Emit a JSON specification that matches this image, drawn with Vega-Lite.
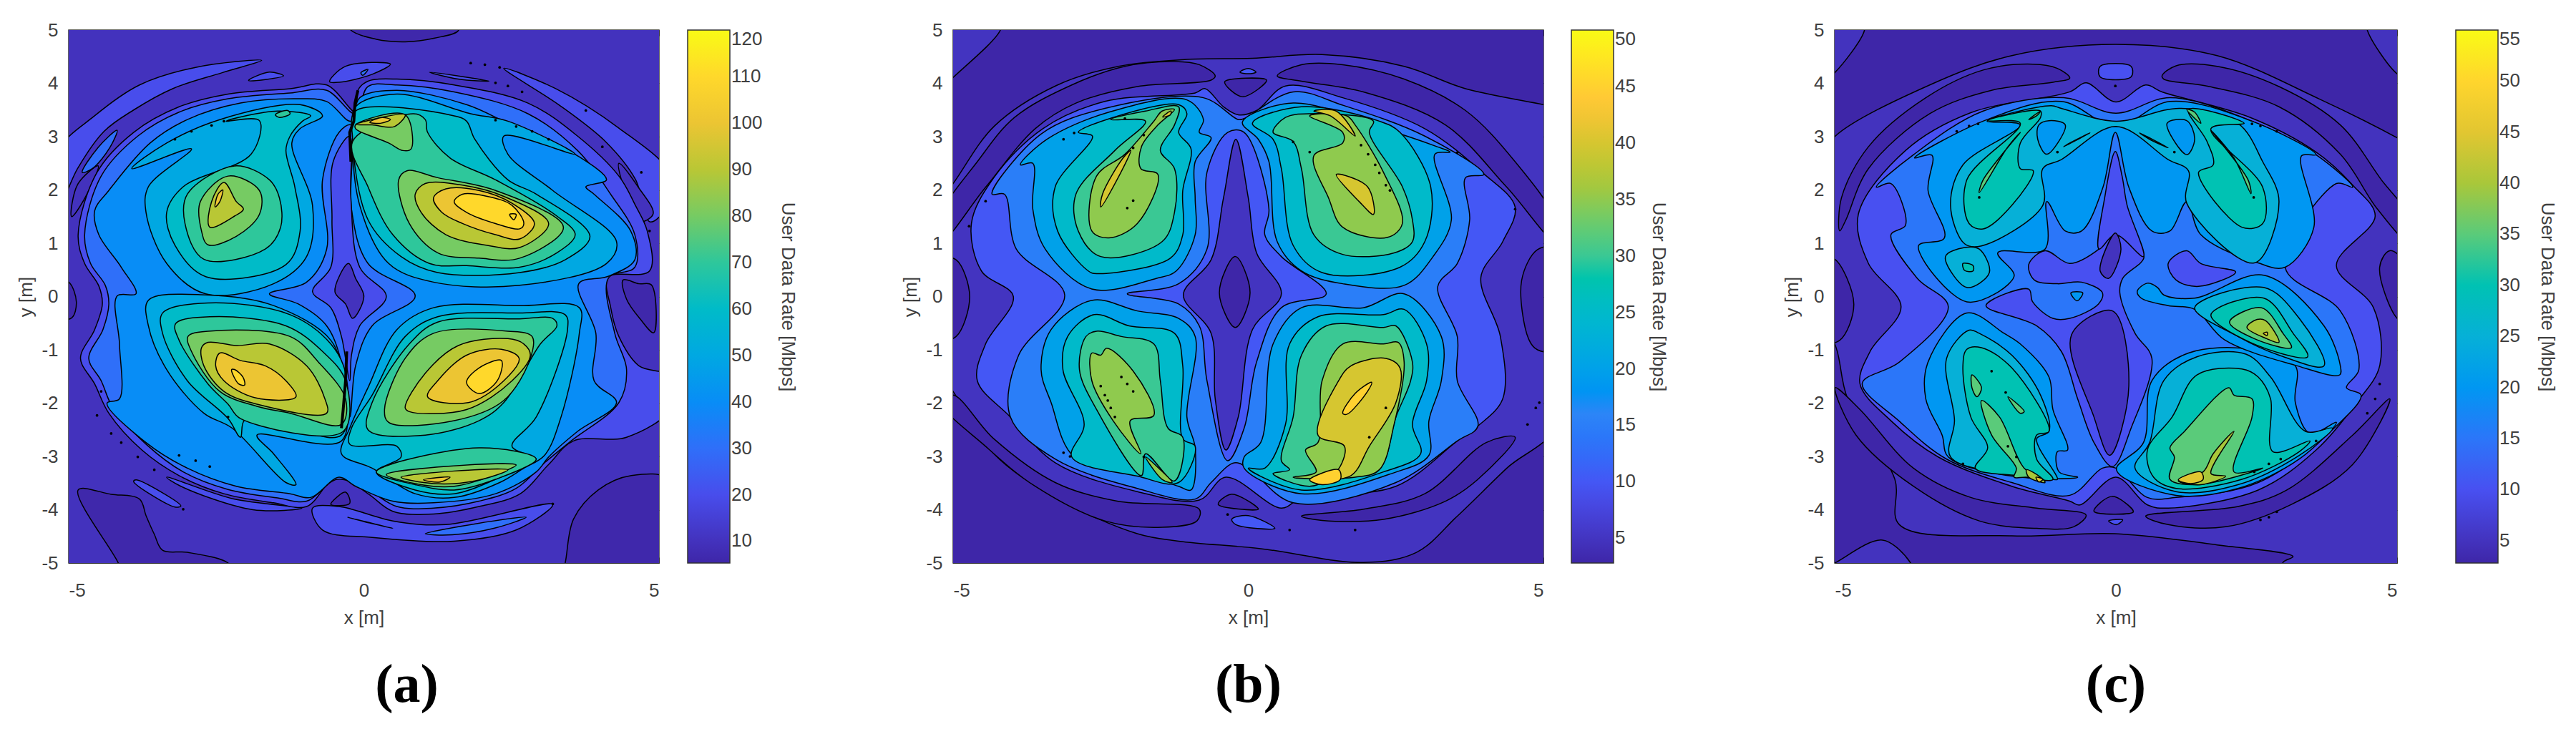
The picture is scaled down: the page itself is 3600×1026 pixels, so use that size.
{"$schema":"https://vega.github.io/schema/vega-lite/v6.json","background":"white","padding":{"left":23,"top":28,"right":0,"bottom":0},"spacing":159,
"config":{"view":{"stroke":"#333","strokeWidth":1.5},"axis":{"grid":false,"domainColor":"#333","tickColor":"#333","tickSize":-8,"labelColor":"#404040","titleColor":"#404040","labelFont":"Liberation Sans","titleFont":"Liberation Sans","labelFontSize":26,"titleFontSize":26,"titleFontWeight":"normal"},"legend":{"gradientLength":745,"gradientThickness":59,"gradientStrokeColor":"#333","gradientStrokeWidth":1.5,"labelFont":"Liberation Sans","labelFontSize":26,"labelColor":"#404040","labelOffset":17,"titleFont":"Liberation Sans","titleFontSize":26,"titleFontWeight":"normal","titleColor":"#404040","titleOrient":"right","titleAngle":270,"titleAnchor":"middle","titleBaseline":"bottom","titleLimit":800},"title":{"font":"Liberation Serif","fontSize":76,"fontWeight":"bold","color":"black","anchor":"middle","orient":"bottom","offset":45}},
"datasets":{
"a":[{"k":0,"v":10,"x":-7,"y":-7},{"k":0,"v":10,"x":7,"y":-7},{"k":0,"v":10,"x":7,"y":7},{"k":0,"v":10,"x":-7,"y":7},
{"k":1,"v":6,"x":-0.3,"y":5.2},{"k":1,"v":6,"x":-0.21,"y":4.99},{"k":1,"v":6,"x":0.2,"y":4.83},{"k":1,"v":6,"x":0.7,"y":4.78},{"k":1,"v":6,"x":1.2,"y":4.85},{"k":1,"v":6,"x":1.6,"y":4.99},{"k":1,"v":6,"x":1.6,"y":5.2},
{"k":2,"v":6,"x":-4.84,"y":-3.63},{"k":2,"v":6,"x":-4.28,"y":-3.71},{"k":2,"v":6,"x":-3.8,"y":-3.8},{"k":2,"v":6,"x":-3.69,"y":-4.11},{"k":2,"v":6,"x":-3.55,"y":-4.46},{"k":2,"v":6,"x":-3.41,"y":-4.76},{"k":2,"v":6,"x":-2.99,"y":-4.8},{"k":2,"v":6,"x":-2.3,"y":-5},{"k":2,"v":6,"x":-2.2,"y":-5.2},{"k":2,"v":6,"x":-4.1,"y":-5.2},{"k":2,"v":6,"x":-4.16,"y":-5},
{"k":3,"v":6,"x":3.35,"y":-5.2},{"k":3,"v":6,"x":3.41,"y":-5},{"k":3,"v":6,"x":3.55,"y":-4.18},{"k":3,"v":6,"x":3.97,"y":-3.63},{"k":3,"v":6,"x":4.53,"y":-3.36},{"k":3,"v":6,"x":5.2,"y":-3.45},{"k":3,"v":6,"x":5.2,"y":-5.2},
{"k":4,"v":6,"x":4.39,"y":0.31},{"k":4,"v":6,"x":4.66,"y":0.24},{"k":4,"v":6,"x":4.87,"y":0.22},{"k":4,"v":6,"x":4.91,"y":-0.68},{"k":4,"v":6,"x":4.68,"y":-0.42},{"k":4,"v":6,"x":4.45,"y":-0.05},
{"k":5,"v":6,"x":-5.2,"y":0.3},{"k":5,"v":6,"x":-5,"y":0.27},{"k":5,"v":6,"x":-4.87,"y":-0.1},{"k":5,"v":6,"x":-4.95,"y":-0.4},{"k":5,"v":6,"x":-5.2,"y":-0.4},
{"k":6,"v":20,"x":-5.2,"y":2.7},{"k":6,"v":20,"x":-4.55,"y":3.4},{"k":6,"v":20,"x":-3.8,"y":3.97},{"k":6,"v":20,"x":-2.85,"y":4.3},{"k":6,"v":20,"x":-1.73,"y":4.43},{"k":6,"v":20,"x":-2.4,"y":4.2},{"k":6,"v":20,"x":-3.24,"y":3.9},{"k":6,"v":20,"x":-3.9,"y":3.5},{"k":6,"v":20,"x":-4.4,"y":3.1},{"k":6,"v":20,"x":-4.85,"y":2.4},{"k":6,"v":20,"x":-5.2,"y":1.6},
{"k":7,"v":10,"x":-4.95,"y":1.5},{"k":7,"v":10,"x":-4.85,"y":2.1},{"k":7,"v":10,"x":-4.5,"y":2.45},{"k":7,"v":10,"x":-4.75,"y":1.8},
{"k":8,"v":30,"x":-4.77,"y":2.33},{"k":8,"v":30,"x":-4.5,"y":2.8},{"k":8,"v":30,"x":-4.18,"y":3.12},{"k":8,"v":30,"x":-4.3,"y":2.8},{"k":8,"v":30,"x":-4.6,"y":2.4},
{"k":9,"v":20,"x":2.37,"y":4.28},{"k":9,"v":20,"x":3.25,"y":3.9},{"k":9,"v":20,"x":4.32,"y":3.16},{"k":9,"v":20,"x":5.2,"y":2.3},{"k":9,"v":20,"x":5.2,"y":1.8},{"k":9,"v":20,"x":4.85,"y":1.4},{"k":9,"v":20,"x":4.6,"y":2.2},{"k":9,"v":20,"x":4.1,"y":2.9},{"k":9,"v":20,"x":3.3,"y":3.6},
{"k":10,"v":10,"x":4.32,"y":2.5},{"k":10,"v":10,"x":4.65,"y":2.05},{"k":10,"v":10,"x":4.9,"y":1.55},{"k":10,"v":10,"x":4.65,"y":1.4},{"k":10,"v":10,"x":4.4,"y":2.05},
{"k":11,"v":20,"x":-0.58,"y":4.03},{"k":11,"v":20,"x":-0.31,"y":4.32},{"k":11,"v":20,"x":0.45,"y":4.36},{"k":11,"v":20,"x":0.14,"y":4.17},{"k":11,"v":20,"x":-0.42,"y":4.02},
{"k":12,"v":30,"x":-0.05,"y":4.2},{"k":12,"v":30,"x":0.07,"y":4.26},{"k":12,"v":30,"x":-0.02,"y":4.15},
{"k":13,"v":20,"x":-1.95,"y":4.06},{"k":13,"v":20,"x":-1.6,"y":4.21},{"k":13,"v":20,"x":-1.36,"y":4.14},{"k":13,"v":20,"x":-1.95,"y":4.05},
{"k":14,"v":20,"x":1.11,"y":4.21},{"k":14,"v":20,"x":1.7,"y":4.12},{"k":14,"v":20,"x":2.12,"y":4.04},{"k":14,"v":20,"x":1.6,"y":4.08},
{"k":15,"v":20,"x":-3.86,"y":-3.44},{"k":15,"v":20,"x":-3.1,"y":-3.93},{"k":15,"v":20,"x":-3.2,"y":-3.95},{"k":15,"v":20,"x":-3.9,"y":-3.47},
{"k":16,"v":20,"x":-3.34,"y":-3.39},{"k":16,"v":20,"x":-2.2,"y":-3.8},{"k":16,"v":20,"x":-1.05,"y":-3.97},{"k":16,"v":20,"x":-1.88,"y":-4},{"k":16,"v":20,"x":-3.1,"y":-3.56},
{"k":17,"v":20,"x":-0.87,"y":-3.97},{"k":17,"v":20,"x":-0.42,"y":-3.94},{"k":17,"v":20,"x":0.49,"y":-4.21},{"k":17,"v":20,"x":1.39,"y":-4.28},{"k":17,"v":20,"x":3.2,"y":-3.9},{"k":17,"v":20,"x":2.58,"y":-4.38},{"k":17,"v":20,"x":1.53,"y":-4.59},{"k":17,"v":20,"x":0.14,"y":-4.52},{"k":17,"v":20,"x":-0.7,"y":-4.38},
{"k":18,"v":30,"x":-0.28,"y":-4.14},{"k":18,"v":30,"x":0.49,"y":-4.35},{"k":18,"v":30,"x":0.1,"y":-4.25},
{"k":19,"v":30,"x":1.04,"y":-4.45},{"k":19,"v":30,"x":2.75,"y":-4.14},{"k":19,"v":30,"x":2.2,"y":-4.35},{"k":19,"v":30,"x":1.5,"y":-4.47},
{"k":20,"v":6,"x":-0.56,"y":-3.9},{"k":20,"v":6,"x":-0.31,"y":-3.67},{"k":20,"v":6,"x":-0.24,"y":-3.88},
{"k":21,"v":20,"x":-0.14,"y":3.46},{"k":21,"v":20,"x":-0.63,"y":3.97},{"k":21,"v":20,"x":-1.25,"y":3.9},{"k":21,"v":20,"x":-2.3,"y":3.8},{"k":21,"v":20,"x":-3.13,"y":3.56},{"k":21,"v":20,"x":-3.9,"y":3.08},{"k":21,"v":20,"x":-4.52,"y":2.33},{"k":21,"v":20,"x":-4.84,"y":1.16},{"k":21,"v":20,"x":-4.73,"y":0.62},{"k":21,"v":20,"x":-4.49,"y":0.2},{"k":21,"v":20,"x":-4.43,"y":-0.14},{"k":21,"v":20,"x":-4.56,"y":-0.62},{"k":21,"v":20,"x":-4.8,"y":-1.16},{"k":21,"v":20,"x":-4.56,"y":-1.64},{"k":21,"v":20,"x":-4.32,"y":-2.19},{"k":21,"v":20,"x":-3.76,"y":-2.88},{"k":21,"v":20,"x":-3.13,"y":-3.36},{"k":21,"v":20,"x":-2.37,"y":-3.7},{"k":21,"v":20,"x":-1.53,"y":-3.87},{"k":21,"v":20,"x":-0.97,"y":-3.94},{"k":21,"v":20,"x":-0.45,"y":-3.37},{"k":21,"v":20,"x":0.07,"y":-3.7},{"k":21,"v":20,"x":0.49,"y":-4.03},{"k":21,"v":20,"x":1.18,"y":-4.08},{"k":21,"v":20,"x":1.95,"y":-3.94},{"k":21,"v":20,"x":2.65,"y":-3.7},{"k":21,"v":20,"x":3.13,"y":-3.15},{"k":21,"v":20,"x":3.55,"y":-2.71},{"k":21,"v":20,"x":4.45,"y":-2.64},{"k":21,"v":20,"x":5.2,"y":-2.1},{"k":21,"v":20,"x":5.2,"y":-1.5},{"k":21,"v":20,"x":4.66,"y":-1.3},{"k":21,"v":20,"x":4.32,"y":-0.75},{"k":21,"v":20,"x":4.18,"y":-0.2},{"k":21,"v":20,"x":4.14,"y":0.36},{"k":21,"v":20,"x":4.84,"y":0.48},{"k":21,"v":20,"x":4.8,"y":1.23},{"k":21,"v":20,"x":4.6,"y":1.71},{"k":21,"v":20,"x":4.32,"y":2.26},{"k":21,"v":20,"x":3.62,"y":3.01},{"k":21,"v":20,"x":2.78,"y":3.63},{"k":21,"v":20,"x":1.53,"y":3.97},{"k":21,"v":20,"x":0.56,"y":4.08},{"k":21,"v":20,"x":0.07,"y":4.04},{"k":21,"v":20,"x":-0.1,"y":3.87},
{"k":22,"v":30,"x":-0.14,"y":3.43},{"k":22,"v":30,"x":-0.63,"y":3.87},{"k":22,"v":30,"x":-1.25,"y":3.82},{"k":22,"v":30,"x":-2.3,"y":3.71},{"k":22,"v":30,"x":-3.13,"y":3.46},{"k":22,"v":30,"x":-3.83,"y":3.01},{"k":22,"v":30,"x":-4.45,"y":2.26},{"k":22,"v":30,"x":-4.73,"y":1.16},{"k":22,"v":30,"x":-4.63,"y":0.62},{"k":22,"v":30,"x":-4.38,"y":0.21},{"k":22,"v":30,"x":-4.32,"y":-0.14},{"k":22,"v":30,"x":-4.42,"y":-0.62},{"k":22,"v":30,"x":-4.66,"y":-1.16},{"k":22,"v":30,"x":-4.45,"y":-1.58},{"k":22,"v":30,"x":-4.25,"y":-2.09},{"k":22,"v":30,"x":-3.69,"y":-2.77},{"k":22,"v":30,"x":-3.06,"y":-3.29},{"k":22,"v":30,"x":-2.3,"y":-3.62},{"k":22,"v":30,"x":-1.46,"y":-3.78},{"k":22,"v":30,"x":-0.97,"y":-3.84},{"k":22,"v":30,"x":-0.45,"y":-3.43},{"k":22,"v":30,"x":0.07,"y":-3.63},{"k":22,"v":30,"x":0.56,"y":-3.94},{"k":22,"v":30,"x":1.18,"y":-3.97},{"k":22,"v":30,"x":1.95,"y":-3.84},{"k":22,"v":30,"x":2.58,"y":-3.6},{"k":22,"v":30,"x":3.06,"y":-3.12},{"k":22,"v":30,"x":3.51,"y":-2.71},{"k":22,"v":30,"x":4.32,"y":-1.99},{"k":22,"v":30,"x":4.45,"y":-1.37},{"k":22,"v":30,"x":4.25,"y":-0.69},{"k":22,"v":30,"x":4.14,"y":0.34},{"k":22,"v":30,"x":4.59,"y":0.55},{"k":22,"v":30,"x":4.59,"y":1.16},{"k":22,"v":30,"x":4.18,"y":1.92},{"k":22,"v":30,"x":3.62,"y":2.74},{"k":22,"v":30,"x":2.78,"y":3.43},{"k":22,"v":30,"x":1.53,"y":3.84},{"k":22,"v":30,"x":0.56,"y":3.97},{"k":22,"v":30,"x":0.07,"y":3.94},
{"k":23,"v":40,"x":-0.22,"y":3.29},{"k":23,"v":40,"x":-0.63,"y":3.66},{"k":23,"v":40,"x":-1.11,"y":3.71},{"k":23,"v":40,"x":-2.09,"y":3.63},{"k":23,"v":40,"x":-2.99,"y":3.32},{"k":23,"v":40,"x":-3.62,"y":2.88},{"k":23,"v":40,"x":-4.32,"y":1.99},{"k":23,"v":40,"x":-4.56,"y":1.61},{"k":23,"v":40,"x":-4.49,"y":1.16},{"k":23,"v":40,"x":-4.11,"y":0.55},{"k":23,"v":40,"x":-3.86,"y":0.05},{"k":23,"v":40,"x":-4.18,"y":0.01},{"k":23,"v":40,"x":-4.14,"y":-0.89},{"k":23,"v":40,"x":-4.14,"y":-1.92},{"k":23,"v":40,"x":-4.35,"y":-2},{"k":23,"v":40,"x":-3.69,"y":-2.74},{"k":23,"v":40,"x":-2.99,"y":-3.22},{"k":23,"v":40,"x":-2.16,"y":-3.56},{"k":23,"v":40,"x":-1.25,"y":-3.7},{"k":23,"v":40,"x":-0.9,"y":-3.77},{"k":23,"v":40,"x":-0.42,"y":-3.39},{"k":23,"v":40,"x":-0.14,"y":-3.56},{"k":23,"v":40,"x":0.49,"y":-3.84},{"k":23,"v":40,"x":1.18,"y":-3.87},{"k":23,"v":40,"x":2.23,"y":-3.7},{"k":23,"v":40,"x":2.92,"y":-3.29},{"k":23,"v":40,"x":3.13,"y":-3.01},{"k":23,"v":40,"x":3.62,"y":-2.53},{"k":23,"v":40,"x":4.28,"y":-1.99},{"k":23,"v":40,"x":3.9,"y":-1.58},{"k":23,"v":40,"x":3.93,"y":-0.69},{"k":23,"v":40,"x":3.64,"y":0.24},{"k":23,"v":40,"x":4.14,"y":0.38},{"k":23,"v":40,"x":4.59,"y":0.69},{"k":23,"v":40,"x":4.52,"y":1.23},{"k":23,"v":40,"x":3.9,"y":1.92},{"k":23,"v":40,"x":3.76,"y":2.06},{"k":23,"v":40,"x":4.11,"y":2.19},{"k":23,"v":40,"x":3.62,"y":2.64},{"k":23,"v":40,"x":2.44,"y":3.25},{"k":23,"v":40,"x":1.74,"y":3.6},{"k":23,"v":40,"x":0.56,"y":3.87},{"k":23,"v":40,"x":-0.07,"y":3.73},
{"k":24,"v":30,"x":-1.6,"y":0.05},{"k":24,"v":30,"x":-0.97,"y":0.27},{"k":24,"v":30,"x":-0.63,"y":0.89},{"k":24,"v":30,"x":-0.7,"y":2.19},{"k":24,"v":30,"x":-0.42,"y":3.08},{"k":24,"v":30,"x":-0.22,"y":3.22},{"k":24,"v":30,"x":-0.21,"y":1.64},{"k":24,"v":30,"x":0.07,"y":0.62},{"k":24,"v":30,"x":0.87,"y":0.01},{"k":24,"v":30,"x":0.14,"y":-0.55},{"k":24,"v":30,"x":-0.14,"y":-1.3},{"k":24,"v":30,"x":-0.24,"y":-2.26},{"k":24,"v":30,"x":-0.38,"y":-1.23},{"k":24,"v":30,"x":-0.63,"y":-0.55},{"k":24,"v":30,"x":-1.11,"y":-0.14},
{"k":25,"v":20,"x":-0.87,"y":0.09},{"k":25,"v":20,"x":-0.56,"y":0.55},{"k":25,"v":20,"x":-0.54,"y":1.44},{"k":25,"v":20,"x":-0.52,"y":2.53},{"k":25,"v":20,"x":-0.24,"y":3.01},{"k":25,"v":20,"x":-0.22,"y":1.85},{"k":25,"v":20,"x":-0.07,"y":0.55},{"k":25,"v":20,"x":0.38,"y":0},{"k":25,"v":20,"x":-0.07,"y":-0.55},{"k":25,"v":20,"x":-0.21,"y":-1.1},{"k":25,"v":20,"x":-0.24,"y":-1.58},{"k":25,"v":20,"x":-0.38,"y":-0.75},{"k":25,"v":20,"x":-0.56,"y":-0.21},
{"k":26,"v":10,"x":-0.26,"y":0.62},{"k":26,"v":10,"x":-0.14,"y":0.34},{"k":26,"v":10,"x":0,"y":0},{"k":26,"v":10,"x":-0.19,"y":-0.41},{"k":26,"v":10,"x":-0.31,"y":-0.14},{"k":26,"v":10,"x":-0.49,"y":0.09},
{"k":27,"v":50,"x":-0.7,"y":3.39},{"k":27,"v":50,"x":-1.08,"y":3.6},{"k":27,"v":50,"x":-2.44,"y":3.32},{"k":27,"v":50,"x":-3.34,"y":2.88},{"k":27,"v":50,"x":-3.93,"y":2.4},{"k":27,"v":50,"x":-2.92,"y":2.77},{"k":27,"v":50,"x":-3.65,"y":2.06},{"k":27,"v":50,"x":-3.69,"y":1.58},{"k":27,"v":50,"x":-3.34,"y":0.62},{"k":27,"v":50,"x":-2.68,"y":0.05},{"k":27,"v":50,"x":-1.53,"y":0.24},{"k":27,"v":50,"x":-0.97,"y":0.75},{"k":27,"v":50,"x":-0.87,"y":1.71},{"k":27,"v":50,"x":-1.22,"y":2.88},{"k":27,"v":50,"x":-1.08,"y":3.15},
{"k":28,"v":60,"x":-0.9,"y":3.39},{"k":28,"v":60,"x":-1.46,"y":3.48},{"k":28,"v":60,"x":-2.33,"y":3.29},{"k":28,"v":60,"x":-1.77,"y":3.3},{"k":28,"v":60,"x":-1.91,"y":2.67},{"k":28,"v":60,"x":-3.06,"y":2.06},{"k":28,"v":60,"x":-3.34,"y":1.58},{"k":28,"v":60,"x":-3.2,"y":0.96},{"k":28,"v":60,"x":-2.67,"y":0.37},{"k":28,"v":60,"x":-1.32,"y":0.6},{"k":28,"v":60,"x":-1.08,"y":1.23},{"k":28,"v":60,"x":-1.17,"y":2.06},{"k":28,"v":60,"x":-1.32,"y":2.74},{"k":28,"v":60,"x":-1.25,"y":3.01},{"k":28,"v":60,"x":-1.04,"y":3.29},
{"k":29,"v":70,"x":-2.19,"y":2.45},{"k":29,"v":70,"x":-2.99,"y":1.92},{"k":29,"v":70,"x":-3.03,"y":1.37},{"k":29,"v":70,"x":-2.71,"y":0.7},{"k":29,"v":70,"x":-1.67,"y":0.89},{"k":29,"v":70,"x":-1.41,"y":1.3},{"k":29,"v":70,"x":-1.43,"y":1.85},{"k":29,"v":70,"x":-1.6,"y":2.19},
{"k":30,"v":80,"x":-2.3,"y":2.26},{"k":30,"v":80,"x":-2.77,"y":1.78},{"k":30,"v":80,"x":-2.75,"y":1.23},{"k":30,"v":80,"x":-2.64,"y":0.97},{"k":30,"v":80,"x":-2.16,"y":1.13},{"k":30,"v":80,"x":-1.77,"y":1.54},{"k":30,"v":80,"x":-1.77,"y":1.99},
{"k":31,"v":90,"x":-2.61,"y":1.3},{"k":31,"v":90,"x":-2.58,"y":1.78},{"k":31,"v":90,"x":-2.37,"y":2.14},{"k":31,"v":90,"x":-2.16,"y":1.78},{"k":31,"v":90,"x":-2.04,"y":1.64},{"k":31,"v":90,"x":-2.19,"y":1.51},
{"k":32,"v":100,"x":-2.52,"y":1.68},{"k":32,"v":100,"x":-2.47,"y":1.92},{"k":32,"v":100,"x":-2.39,"y":2},{"k":32,"v":100,"x":-2.44,"y":1.78},
{"k":33,"v":70,"x":-1.5,"y":3.41},{"k":33,"v":70,"x":-1.29,"y":3.49},{"k":33,"v":70,"x":-1.25,"y":3.43},{"k":33,"v":70,"x":-1.43,"y":3.36},
{"k":34,"v":50,"x":-2.68,"y":0.03},{"k":34,"v":50,"x":-3.65,"y":-0.07},{"k":34,"v":50,"x":-3.65,"y":-0.55},{"k":34,"v":50,"x":-3.34,"y":-1.37},{"k":34,"v":50,"x":-2.71,"y":-2.19},{"k":34,"v":50,"x":-2.23,"y":-2.47},{"k":34,"v":50,"x":-1.32,"y":-3.49},{"k":34,"v":50,"x":-1.15,"y":-3.53},{"k":34,"v":50,"x":-1.53,"y":-2.95},{"k":34,"v":50,"x":-1.81,"y":-2.6},{"k":34,"v":50,"x":-0.38,"y":-2.71},{"k":34,"v":50,"x":-0.35,"y":-1.58},{"k":34,"v":50,"x":-0.56,"y":-0.82},{"k":34,"v":50,"x":-1.53,"y":-0.17},
{"k":35,"v":60,"x":-2.64,"y":-0.12},{"k":35,"v":60,"x":-3.41,"y":-0.31},{"k":35,"v":60,"x":-3.41,"y":-0.69},{"k":35,"v":60,"x":-2.99,"y":-1.58},{"k":35,"v":60,"x":-2.3,"y":-2.29},{"k":35,"v":60,"x":-2.09,"y":-2.64},{"k":35,"v":60,"x":-2.02,"y":-2.32},{"k":35,"v":60,"x":-1.25,"y":-2.47},{"k":35,"v":60,"x":-0.38,"y":-2.6},{"k":35,"v":60,"x":-0.31,"y":-1.44},{"k":35,"v":60,"x":-0.56,"y":-0.89},{"k":35,"v":60,"x":-1.25,"y":-0.34},
{"k":36,"v":70,"x":-2.61,"y":-0.38},{"k":36,"v":70,"x":-3.19,"y":-0.51},{"k":36,"v":70,"x":-3.13,"y":-0.82},{"k":36,"v":70,"x":-2.64,"y":-1.64},{"k":36,"v":70,"x":-2.3,"y":-2.02},{"k":36,"v":70,"x":-2.09,"y":-2.29},{"k":36,"v":70,"x":-0.35,"y":-2.53},{"k":36,"v":70,"x":-0.31,"y":-1.58},{"k":36,"v":70,"x":-0.7,"y":-1.03},{"k":36,"v":70,"x":-1.32,"y":-0.55},
{"k":37,"v":80,"x":-2.64,"y":-0.65},{"k":37,"v":80,"x":-2.98,"y":-0.75},{"k":37,"v":80,"x":-2.92,"y":-1.03},{"k":37,"v":80,"x":-2.44,"y":-1.78},{"k":37,"v":80,"x":-1.81,"y":-2.06},{"k":37,"v":80,"x":-1.25,"y":-2.19},{"k":37,"v":80,"x":-0.38,"y":-2.4},{"k":37,"v":80,"x":-0.31,"y":-1.92},{"k":37,"v":80,"x":-0.77,"y":-1.23},{"k":37,"v":80,"x":-1.25,"y":-0.75},
{"k":38,"v":90,"x":-2.64,"y":-0.86},{"k":38,"v":90,"x":-2.75,"y":-0.96},{"k":38,"v":90,"x":-2.71,"y":-1.3},{"k":38,"v":90,"x":-2.37,"y":-1.78},{"k":38,"v":90,"x":-1.81,"y":-2.02},{"k":38,"v":90,"x":-0.63,"y":-2.19},{"k":38,"v":90,"x":-0.66,"y":-1.92},{"k":38,"v":90,"x":-0.97,"y":-1.3},{"k":38,"v":90,"x":-1.6,"y":-0.89},{"k":38,"v":90,"x":-2.16,"y":-0.92},
{"k":39,"v":100,"x":-2.44,"y":-1.06},{"k":39,"v":100,"x":-2.51,"y":-1.3},{"k":39,"v":100,"x":-2.37,"y":-1.58},{"k":39,"v":100,"x":-1.84,"y":-1.9},{"k":39,"v":100,"x":-1.15,"y":-1.88},{"k":39,"v":100,"x":-1.32,"y":-1.58},{"k":39,"v":100,"x":-1.67,"y":-1.3},{"k":39,"v":100,"x":-2.09,"y":-1.2},
{"k":40,"v":110,"x":-2.24,"y":-1.37},{"k":40,"v":110,"x":-2.12,"y":-1.64},{"k":40,"v":110,"x":-2.02,"y":-1.66},{"k":40,"v":110,"x":-2.05,"y":-1.51},{"k":40,"v":110,"x":-2.19,"y":-1.37},
{"k":41,"v":50,"x":-0.19,"y":3.08},{"k":41,"v":50,"x":-0.14,"y":3.56},{"k":41,"v":50,"x":0.56,"y":3.8},{"k":41,"v":50,"x":1.81,"y":3.43},{"k":41,"v":50,"x":2.44,"y":3.29},{"k":41,"v":50,"x":3.58,"y":2.67},{"k":41,"v":50,"x":2.37,"y":3.01},{"k":41,"v":50,"x":2.44,"y":2.67},{"k":41,"v":50,"x":3.2,"y":1.99},{"k":41,"v":50,"x":4.28,"y":1.03},{"k":41,"v":50,"x":4.11,"y":0.62},{"k":41,"v":50,"x":2.64,"y":0.21},{"k":41,"v":50,"x":1.18,"y":0.27},{"k":41,"v":50,"x":0.42,"y":0.62},{"k":41,"v":50,"x":-0.07,"y":1.71},
{"k":42,"v":60,"x":-0.19,"y":2.95},{"k":42,"v":60,"x":-0.14,"y":3.48},{"k":42,"v":60,"x":1.53,"y":3.39},{"k":42,"v":60,"x":1.74,"y":3.29},{"k":42,"v":60,"x":1.88,"y":2.95},{"k":42,"v":60,"x":2.44,"y":2.19},{"k":42,"v":60,"x":2.92,"y":1.92},{"k":42,"v":60,"x":3.83,"y":1.13},{"k":42,"v":60,"x":3.41,"y":0.69},{"k":42,"v":60,"x":2.64,"y":0.45},{"k":42,"v":60,"x":1.25,"y":0.45},{"k":42,"v":60,"x":0.63,"y":0.75},{"k":42,"v":60,"x":0.07,"y":1.44},
{"k":43,"v":70,"x":-0.19,"y":2.91},{"k":43,"v":70,"x":0.84,"y":3.43},{"k":43,"v":70,"x":1.04,"y":3.32},{"k":43,"v":70,"x":1.08,"y":3.08},{"k":43,"v":70,"x":1.46,"y":2.6},{"k":43,"v":70,"x":2.23,"y":2.19},{"k":43,"v":70,"x":3.27,"y":1.51},{"k":43,"v":70,"x":3.58,"y":1.16},{"k":43,"v":70,"x":3.27,"y":0.82},{"k":43,"v":70,"x":2.64,"y":0.55},{"k":43,"v":70,"x":1.74,"y":0.58},{"k":43,"v":70,"x":1.11,"y":0.62},{"k":43,"v":70,"x":0.49,"y":1.16},{"k":43,"v":70,"x":0.07,"y":2.06},
{"k":44,"v":80,"x":0.59,"y":2.19},{"k":44,"v":80,"x":0.73,"y":2.36},{"k":44,"v":80,"x":1.25,"y":2.23},{"k":44,"v":80,"x":2.23,"y":1.99},{"k":44,"v":80,"x":3.38,"y":1.3},{"k":44,"v":80,"x":2.64,"y":0.72},{"k":44,"v":80,"x":1.95,"y":0.72},{"k":44,"v":80,"x":1.25,"y":0.82},{"k":44,"v":80,"x":0.77,"y":1.37},
{"k":45,"v":80,"x":-0.14,"y":3.22},{"k":45,"v":80,"x":0.7,"y":3.41},{"k":45,"v":80,"x":0.8,"y":2.77},{"k":45,"v":80,"x":0.66,"y":2.74},{"k":45,"v":80,"x":0.42,"y":2.88},{"k":45,"v":80,"x":-0.14,"y":3.15},
{"k":46,"v":90,"x":-0.14,"y":3.23},{"k":46,"v":90,"x":0.7,"y":3.41},{"k":46,"v":90,"x":0.52,"y":3.19},{"k":46,"v":90,"x":0.14,"y":3.22},
{"k":47,"v":100,"x":0.1,"y":3.27},{"k":47,"v":100,"x":0.31,"y":3.36},{"k":47,"v":100,"x":0.45,"y":3.32},{"k":47,"v":100,"x":0.28,"y":3.25},
{"k":48,"v":90,"x":0.87,"y":1.92},{"k":48,"v":90,"x":1.04,"y":2.12},{"k":48,"v":90,"x":1.67,"y":2.09},{"k":48,"v":90,"x":2.37,"y":1.88},{"k":48,"v":90,"x":3.13,"y":1.37},{"k":48,"v":90,"x":2.64,"y":0.92},{"k":48,"v":90,"x":2.09,"y":0.96},{"k":48,"v":90,"x":1.39,"y":1.16},{"k":48,"v":90,"x":0.97,"y":1.58},
{"k":49,"v":100,"x":1.18,"y":1.85},{"k":49,"v":100,"x":1.39,"y":2.02},{"k":49,"v":100,"x":1.95,"y":1.99},{"k":49,"v":100,"x":2.51,"y":1.75},{"k":49,"v":100,"x":2.89,"y":1.37},{"k":49,"v":100,"x":2.64,"y":1.08},{"k":49,"v":100,"x":2.23,"y":1.16},{"k":49,"v":100,"x":1.67,"y":1.37},{"k":49,"v":100,"x":1.32,"y":1.58},
{"k":50,"v":110,"x":1.53,"y":1.78},{"k":50,"v":110,"x":1.67,"y":1.92},{"k":50,"v":110,"x":2.09,"y":1.88},{"k":50,"v":110,"x":2.51,"y":1.71},{"k":50,"v":110,"x":2.71,"y":1.37},{"k":50,"v":110,"x":2.64,"y":1.27},{"k":50,"v":110,"x":2.23,"y":1.37},{"k":50,"v":110,"x":1.74,"y":1.58},
{"k":51,"v":110,"x":2.47,"y":1.54},{"k":51,"v":110,"x":2.58,"y":1.54},{"k":51,"v":110,"x":2.54,"y":1.44},
{"k":52,"v":50,"x":2.64,"y":-0.17},{"k":52,"v":50,"x":1.18,"y":-0.21},{"k":52,"v":50,"x":0.56,"y":-0.62},{"k":52,"v":50,"x":0.07,"y":-1.71},{"k":52,"v":50,"x":-0.24,"y":-2.47},{"k":52,"v":50,"x":-0.38,"y":-2.95},{"k":52,"v":50,"x":0.14,"y":-3.22},{"k":52,"v":50,"x":0.87,"y":-3.7},{"k":52,"v":50,"x":1.53,"y":-3.77},{"k":52,"v":50,"x":2.3,"y":-3.49},{"k":52,"v":50,"x":2.71,"y":-3.22},{"k":52,"v":50,"x":3.06,"y":-2.98},{"k":52,"v":50,"x":3.34,"y":-2.26},{"k":52,"v":50,"x":3.65,"y":-0.69},{"k":52,"v":50,"x":3.65,"y":-0.21},
{"k":53,"v":60,"x":2.64,"y":-0.31},{"k":53,"v":60,"x":1.25,"y":-0.38},{"k":53,"v":60,"x":0.7,"y":-0.75},{"k":53,"v":60,"x":0.14,"y":-1.85},{"k":53,"v":60,"x":-0.21,"y":-2.47},{"k":53,"v":60,"x":-0.24,"y":-2.77},{"k":53,"v":60,"x":0.56,"y":-2.81},{"k":53,"v":60,"x":0.63,"y":-3.01},{"k":53,"v":60,"x":0.21,"y":-3.29},{"k":53,"v":60,"x":0.87,"y":-3.63},{"k":53,"v":60,"x":1.53,"y":-3.7},{"k":53,"v":60,"x":2.23,"y":-3.43},{"k":53,"v":60,"x":2.75,"y":-3.15},{"k":53,"v":60,"x":2.92,"y":-3.05},{"k":53,"v":60,"x":2.51,"y":-2.81},{"k":53,"v":60,"x":2.92,"y":-2.26},{"k":53,"v":60,"x":3.45,"y":-0.62},{"k":53,"v":60,"x":3.41,"y":-0.34},
{"k":54,"v":70,"x":2.64,"y":-0.42},{"k":54,"v":70,"x":1.25,"y":-0.48},{"k":54,"v":70,"x":0.77,"y":-0.89},{"k":54,"v":70,"x":0.14,"y":-1.99},{"k":54,"v":70,"x":0.07,"y":-2.5},{"k":54,"v":70,"x":1.04,"y":-2.6},{"k":54,"v":70,"x":1.95,"y":-2.33},{"k":54,"v":70,"x":2.37,"y":-1.99},{"k":54,"v":70,"x":2.99,"y":-0.89},{"k":54,"v":70,"x":3.27,"y":-0.55},{"k":54,"v":70,"x":3.2,"y":-0.41},
{"k":55,"v":70,"x":0.21,"y":-3.29},{"k":55,"v":70,"x":1.95,"y":-2.84},{"k":55,"v":70,"x":2.92,"y":-3.05},{"k":55,"v":70,"x":2.23,"y":-3.43},{"k":55,"v":70,"x":1.53,"y":-3.63},{"k":55,"v":70,"x":0.87,"y":-3.53},
{"k":56,"v":80,"x":2.44,"y":-0.65},{"k":56,"v":80,"x":1.18,"y":-0.69},{"k":56,"v":80,"x":0.7,"y":-1.16},{"k":56,"v":80,"x":0.35,"y":-2.12},{"k":56,"v":80,"x":0.42,"y":-2.36},{"k":56,"v":80,"x":1.53,"y":-2.33},{"k":56,"v":80,"x":2.37,"y":-1.95},{"k":56,"v":80,"x":2.82,"y":-1.16},{"k":56,"v":80,"x":2.85,"y":-0.75},
{"k":57,"v":80,"x":0.38,"y":-3.34},{"k":57,"v":80,"x":2.58,"y":-3.16},{"k":57,"v":80,"x":2.23,"y":-3.34},{"k":57,"v":80,"x":1.53,"y":-3.56},{"k":57,"v":80,"x":0.97,"y":-3.53},
{"k":58,"v":90,"x":2.44,"y":-0.79},{"k":58,"v":90,"x":1.6,"y":-0.92},{"k":58,"v":90,"x":1.04,"y":-1.44},{"k":58,"v":90,"x":0.7,"y":-2.09},{"k":58,"v":90,"x":0.77,"y":-2.16},{"k":58,"v":90,"x":1.74,"y":-2.12},{"k":58,"v":90,"x":2.51,"y":-1.58},{"k":58,"v":90,"x":2.82,"y":-1.1},{"k":58,"v":90,"x":2.71,"y":-0.89},
{"k":59,"v":90,"x":0.63,"y":-3.39},{"k":59,"v":90,"x":2.44,"y":-3.25},{"k":59,"v":90,"x":1.88,"y":-3.46},{"k":59,"v":90,"x":1.18,"y":-3.51},
{"k":60,"v":100,"x":2.33,"y":-0.99},{"k":60,"v":100,"x":1.74,"y":-1.1},{"k":60,"v":100,"x":1.25,"y":-1.58},{"k":60,"v":100,"x":1.08,"y":-1.88},{"k":60,"v":100,"x":1.77,"y":-1.99},{"k":60,"v":100,"x":2.37,"y":-1.58},{"k":60,"v":100,"x":2.63,"y":-1.16},
{"k":61,"v":100,"x":1.01,"y":-3.44},{"k":61,"v":100,"x":1.46,"y":-3.39},{"k":61,"v":100,"x":1.29,"y":-3.48},
{"k":62,"v":110,"x":2.33,"y":-1.2},{"k":62,"v":110,"x":1.95,"y":-1.34},{"k":62,"v":110,"x":1.74,"y":-1.61},{"k":62,"v":110,"x":1.95,"y":-1.82},{"k":62,"v":110,"x":2.26,"y":-1.58}],
"ad":[{"x":-3.2,"y":2.95},{"x":-2.92,"y":3.1},{"x":-2.58,"y":3.21},{"x":-2.37,"y":3.29},{"x":2.23,"y":3.31},{"x":2.58,"y":3.19},{"x":2.85,"y":3.1},{"x":3.13,"y":2.95},{"x":-4.52,"y":-2.23},{"x":-4.28,"y":-2.57},{"x":-4.11,"y":-2.74},{"x":-3.83,"y":-3.01},{"x":-3.55,"y":-3.25},{"x":-3.13,"y":-2.98},{"x":-2.85,"y":-3.08},{"x":-2.61,"y":-3.19},{"x":-2.3,"y":-2.26},{"x":1.81,"y":4.38},{"x":2.05,"y":4.35},{"x":2.3,"y":4.3},{"x":2.23,"y":4.01},{"x":2.44,"y":3.95},{"x":2.68,"y":3.84},{"x":3.76,"y":3.49},{"x":4.04,"y":2.81},{"x":4.7,"y":2.33},{"x":4.84,"y":1.23},{"x":-4.45,"y":-1.78},{"x":3.2,"y":-3.89},{"x":-3.06,"y":-3.99}],
"ac":[{"k":1,"x":-0.1,"y":3.87},{"k":1,"x":-0.15,"y":3.63},{"k":1,"x":-0.17,"y":3.29},{"k":1,"x":-0.24,"y":3.08},{"k":1,"x":-0.22,"y":2.53},{"k":2,"x":-0.29,"y":-1.03},{"k":2,"x":-0.31,"y":-1.58},{"k":2,"x":-0.35,"y":-2.12},{"k":2,"x":-0.38,"y":-2.47}],
"b":[{"k":0,"v":2.8,"x":-7,"y":-7},{"k":0,"v":2.8,"x":7,"y":-7},{"k":0,"v":2.8,"x":7,"y":7},{"k":0,"v":2.8,"x":-7,"y":7},
{"k":1,"v":5,"x":-5.2,"y":5.2},{"k":1,"v":5,"x":-4.2,"y":5.2},{"k":1,"v":5,"x":-4.2,"y":5},{"k":1,"v":5,"x":-5,"y":4.11},{"k":1,"v":5,"x":-5.2,"y":3.9},
{"k":2,"v":5,"x":-5.3,"y":1.7},{"k":2,"v":5,"x":-5,"y":2.12},{"k":2,"v":5,"x":-4.3,"y":3.2},{"k":2,"v":5,"x":-3.25,"y":3.96},{"k":2,"v":5,"x":-2.2,"y":4.32},{"k":2,"v":5,"x":-1.04,"y":4.45},{"k":2,"v":5,"x":0.07,"y":4.47},{"k":2,"v":5,"x":1.25,"y":4.54},{"k":2,"v":5,"x":2.64,"y":4.32},{"k":2,"v":5,"x":3.68,"y":3.9},{"k":2,"v":5,"x":5.2,"y":3.55},{"k":2,"v":5,"x":5.3,"y":3.5},{"k":2,"v":5,"x":5.3,"y":-2.3},{"k":2,"v":5,"x":4.38,"y":-3.22},{"k":2,"v":5,"x":3.55,"y":-4.11},{"k":2,"v":5,"x":2.85,"y":-4.8},{"k":2,"v":5,"x":1.95,"y":-4.99},{"k":2,"v":5,"x":0.21,"y":-4.73},{"k":2,"v":5,"x":-1.18,"y":-4.59},{"k":2,"v":5,"x":-1.88,"y":-4.45},{"k":2,"v":5,"x":-3.27,"y":-3.77},{"k":2,"v":5,"x":-4.31,"y":-2.95},{"k":2,"v":5,"x":-5,"y":-1.78},{"k":2,"v":5,"x":-5.3,"y":-1.3},
{"k":3,"v":2.8,"x":-0.56,"y":4.14},{"k":3,"v":2.8,"x":-0.83,"y":4.35},{"k":3,"v":2.8,"x":-1.25,"y":4.41},{"k":3,"v":2.8,"x":-2.09,"y":4.32},{"k":3,"v":2.8,"x":-2.99,"y":3.97},{"k":3,"v":2.8,"x":-3.96,"y":3.36},{"k":3,"v":2.8,"x":-4.59,"y":2.53},{"k":3,"v":2.8,"x":-5.2,"y":1.54},{"k":3,"v":2.8,"x":-5.2,"y":1.03},{"k":3,"v":2.8,"x":-4.45,"y":2.05},{"k":3,"v":2.8,"x":-3.61,"y":3.15},{"k":3,"v":2.8,"x":-2.92,"y":3.63},{"k":3,"v":2.8,"x":-1.88,"y":3.94},{"k":3,"v":2.8,"x":-0.63,"y":4.06},
{"k":4,"v":2.8,"x":0.49,"y":4.14},{"k":4,"v":2.8,"x":0.9,"y":4.35},{"k":4,"v":2.8,"x":1.6,"y":4.35},{"k":4,"v":2.8,"x":2.64,"y":4.08},{"k":4,"v":2.8,"x":3.68,"y":3.49},{"k":4,"v":2.8,"x":4.52,"y":2.53},{"k":4,"v":2.8,"x":5.2,"y":1.44},{"k":4,"v":2.8,"x":5.2,"y":1.03},{"k":4,"v":2.8,"x":4.38,"y":2.05},{"k":4,"v":2.8,"x":3.34,"y":3.22},{"k":4,"v":2.8,"x":1.95,"y":3.84},{"k":4,"v":2.8,"x":0.9,"y":4.04},
{"k":5,"v":2.8,"x":-0.83,"y":-3.99},{"k":5,"v":2.8,"x":-0.87,"y":-4.21},{"k":5,"v":2.8,"x":-1.46,"y":-4.33},{"k":5,"v":2.8,"x":-2.43,"y":-4.21},{"k":5,"v":2.8,"x":-3.61,"y":-3.56},{"k":5,"v":2.8,"x":-4.45,"y":-2.81},{"k":5,"v":2.8,"x":-5.2,"y":-1.99},{"k":5,"v":2.8,"x":-5,"y":-1.85},{"k":5,"v":2.8,"x":-4.31,"y":-2.67},{"k":5,"v":2.8,"x":-3.27,"y":-3.49},{"k":5,"v":2.8,"x":-2.22,"y":-3.84},
{"k":6,"v":2.8,"x":0.9,"y":-4.12},{"k":6,"v":2.8,"x":1.95,"y":-3.99},{"k":6,"v":2.8,"x":2.99,"y":-3.7},{"k":6,"v":2.8,"x":4.03,"y":-2.74},{"k":6,"v":2.8,"x":4.52,"y":-2.64},{"k":6,"v":2.8,"x":3.89,"y":-3.43},{"k":6,"v":2.8,"x":3.34,"y":-3.84},{"k":6,"v":2.8,"x":2.29,"y":-4.18},{"k":6,"v":2.8,"x":1.25,"y":-4.2},
{"k":7,"v":2.8,"x":-5.2,"y":0.7},{"k":7,"v":2.8,"x":-4.95,"y":0.69},{"k":7,"v":2.8,"x":-4.72,"y":0},{"k":7,"v":2.8,"x":-4.95,"y":-0.75},{"k":7,"v":2.8,"x":-5.2,"y":-0.8},
{"k":8,"v":2.8,"x":5.2,"y":0.9},{"k":8,"v":2.8,"x":4.9,"y":0.88},{"k":8,"v":2.8,"x":4.63,"y":0.3},{"k":8,"v":2.8,"x":4.75,"y":-0.8},{"k":8,"v":2.8,"x":4.9,"y":-1},{"k":8,"v":2.8,"x":5.2,"y":-1},
{"k":9,"v":10,"x":-0.14,"y":4.21},{"k":9,"v":10,"x":0,"y":4.28},{"k":9,"v":10,"x":0.13,"y":4.21},{"k":9,"v":10,"x":0,"y":4.18},
{"k":10,"v":10,"x":-0.28,"y":-4.18},{"k":10,"v":10,"x":0,"y":-4.11},{"k":10,"v":10,"x":0.45,"y":-4.35},{"k":10,"v":10,"x":-0.21,"y":-4.28},
{"k":11,"v":2.8,"x":-0.4,"y":4.03},{"k":11,"v":2.8,"x":0.31,"y":4.06},{"k":11,"v":2.8,"x":-0.1,"y":3.75},
{"k":12,"v":2.8,"x":-0.51,"y":-3.9},{"k":12,"v":2.8,"x":-0.29,"y":-3.71},{"k":12,"v":2.8,"x":0.17,"y":-3.99},
{"k":13,"v":10,"x":-4.69,"y":1.37},{"k":13,"v":10,"x":-4.31,"y":2.23},{"k":13,"v":10,"x":-3.48,"y":3.15},{"k":13,"v":10,"x":-2.43,"y":3.66},{"k":13,"v":10,"x":-0.9,"y":3.82},{"k":13,"v":10,"x":-0.73,"y":3.9},{"k":13,"v":10,"x":-0.42,"y":3.56},{"k":13,"v":10,"x":-0.17,"y":3.41},{"k":13,"v":10,"x":0.14,"y":3.49},{"k":13,"v":10,"x":0.63,"y":3.95},{"k":13,"v":10,"x":1.6,"y":3.73},{"k":13,"v":10,"x":2.99,"y":3.15},{"k":13,"v":10,"x":3.96,"y":2.33},{"k":13,"v":10,"x":4.52,"y":1.68},{"k":13,"v":10,"x":4.31,"y":1.03},{"k":13,"v":10,"x":3.94,"y":0.36},{"k":13,"v":10,"x":4.27,"y":-0.75},{"k":13,"v":10,"x":4.31,"y":-1.92},{"k":13,"v":10,"x":3.89,"y":-2.43},{"k":13,"v":10,"x":3.54,"y":-2.71},{"k":13,"v":10,"x":2.5,"y":-3.56},{"k":13,"v":10,"x":0.9,"y":-3.78},{"k":13,"v":10,"x":0.56,"y":-3.97},{"k":13,"v":10,"x":-0.38,"y":-3.39},{"k":13,"v":10,"x":-0.83,"y":-3.82},{"k":13,"v":10,"x":-1.88,"y":-3.66},{"k":13,"v":10,"x":-3.27,"y":-3.12},{"k":13,"v":10,"x":-4.03,"y":-2.26},{"k":13,"v":10,"x":-4.59,"y":-1.58},{"k":13,"v":10,"x":-4.45,"y":-0.89},{"k":13,"v":10,"x":-3.98,"y":0},{"k":13,"v":10,"x":-4.52,"y":0.48},
{"k":14,"v":15,"x":-0.17,"y":3.32},{"k":14,"v":15,"x":-0.76,"y":3.73},{"k":14,"v":15,"x":-2.43,"y":3.53},{"k":14,"v":15,"x":-3.51,"y":3.05},{"k":14,"v":15,"x":-4.34,"y":1.92},{"k":14,"v":15,"x":-4.13,"y":1.92},{"k":14,"v":15,"x":-3.93,"y":0.89},{"k":14,"v":15,"x":-3.11,"y":0.03},{"k":14,"v":15,"x":-3.89,"y":-1.1},{"k":14,"v":15,"x":-4.03,"y":-2.26},{"k":14,"v":15,"x":-3.27,"y":-3.05},{"k":14,"v":15,"x":-1.88,"y":-3.6},{"k":14,"v":15,"x":-0.9,"y":-3.8},{"k":14,"v":15,"x":-0.63,"y":-3.49},{"k":14,"v":15,"x":-0.24,"y":-3.12},{"k":14,"v":15,"x":0,"y":-3.22},{"k":14,"v":15,"x":0.76,"y":-3.87},{"k":14,"v":15,"x":2.5,"y":-3.49},{"k":14,"v":15,"x":3.54,"y":-2.71},{"k":14,"v":15,"x":3.89,"y":-2.43},{"k":14,"v":15,"x":3.54,"y":-1.58},{"k":14,"v":15,"x":3.54,"y":-0.75},{"k":14,"v":15,"x":3.21,"y":0.19},{"k":14,"v":15,"x":3.54,"y":0.62},{"k":14,"v":15,"x":3.75,"y":1.44},{"k":14,"v":15,"x":3.68,"y":2.23},{"k":14,"v":15,"x":3.99,"y":2.29},{"k":14,"v":15,"x":2.99,"y":3.01},{"k":14,"v":15,"x":1.6,"y":3.59},{"k":14,"v":15,"x":0.76,"y":3.84},{"k":14,"v":15,"x":-0.07,"y":3.34},
{"k":15,"v":10,"x":-2.05,"y":0.05},{"k":15,"v":10,"x":-1.18,"y":0.24},{"k":15,"v":10,"x":-0.7,"y":0.89},{"k":15,"v":10,"x":-0.7,"y":2.33},{"k":15,"v":10,"x":-0.35,"y":3.08},{"k":15,"v":10,"x":-0.07,"y":3.08},{"k":15,"v":10,"x":0.35,"y":1.64},{"k":15,"v":10,"x":0.28,"y":1.16},{"k":15,"v":10,"x":0.56,"y":0.75},{"k":15,"v":10,"x":1.32,"y":0.05},{"k":15,"v":10,"x":0.56,"y":-0.21},{"k":15,"v":10,"x":0.14,"y":-1.23},{"k":15,"v":10,"x":-0.07,"y":-2.47},{"k":15,"v":10,"x":-0.35,"y":-3.08},{"k":15,"v":10,"x":-0.7,"y":-1.58},{"k":15,"v":10,"x":-0.83,"y":-0.55},{"k":15,"v":10,"x":-1.18,"y":-0.14},
{"k":16,"v":5,"x":-1.1,"y":0.03},{"k":16,"v":5,"x":-0.63,"y":0.69},{"k":16,"v":5,"x":-0.42,"y":1.85},{"k":16,"v":5,"x":-0.21,"y":2.95},{"k":16,"v":5,"x":0,"y":1.85},{"k":16,"v":5,"x":0.14,"y":0.82},{"k":16,"v":5,"x":0.56,"y":0.05},{"k":16,"v":5,"x":0.07,"y":-0.62},{"k":16,"v":5,"x":-0.17,"y":-2.26},{"k":16,"v":5,"x":-0.38,"y":-2.88},{"k":16,"v":5,"x":-0.56,"y":-1.92},{"k":16,"v":5,"x":-0.63,"y":-0.69},
{"k":17,"v":2.8,"x":-0.22,"y":0.75},{"k":17,"v":2.8,"x":0.03,"y":0.07},{"k":17,"v":2.8,"x":-0.22,"y":-0.58},{"k":17,"v":2.8,"x":-0.49,"y":0.07},
{"k":18,"v":20,"x":-1.04,"y":3.69},{"k":18,"v":20,"x":-2.36,"y":3.46},{"k":18,"v":20,"x":-3.41,"y":2.95},{"k":18,"v":20,"x":-3.86,"y":2.47},{"k":18,"v":20,"x":-3.65,"y":2.5},{"k":18,"v":20,"x":-3.65,"y":1.64},{"k":18,"v":20,"x":-3.44,"y":0.89},{"k":18,"v":20,"x":-2.65,"y":0.14},{"k":18,"v":20,"x":-1.56,"y":0.34},{"k":18,"v":20,"x":-1.22,"y":0.48},{"k":18,"v":20,"x":-0.9,"y":1.16},{"k":18,"v":20,"x":-0.9,"y":1.85},{"k":18,"v":20,"x":-0.9,"y":2.53},{"k":18,"v":20,"x":-0.63,"y":2.98},{"k":18,"v":20,"x":-0.83,"y":3.08},{"k":18,"v":20,"x":-0.76,"y":3.32},
{"k":19,"v":25,"x":-1.18,"y":3.6},{"k":19,"v":25,"x":-2.29,"y":3.36},{"k":19,"v":25,"x":-2.88,"y":3.08},{"k":19,"v":25,"x":-2.64,"y":3.01},{"k":19,"v":25,"x":-3.27,"y":2.06},{"k":19,"v":25,"x":-3.23,"y":1.23},{"k":19,"v":25,"x":-2.71,"y":0.48},{"k":19,"v":25,"x":-2.57,"y":0.43},{"k":19,"v":25,"x":-1.32,"y":0.72},{"k":19,"v":25,"x":-1.11,"y":1.16},{"k":19,"v":25,"x":-1.11,"y":1.99},{"k":19,"v":25,"x":-0.97,"y":2.77},{"k":19,"v":25,"x":-1.18,"y":3.08},{"k":19,"v":25,"x":-1.04,"y":3.43},
{"k":20,"v":30,"x":-1.18,"y":3.56},{"k":20,"v":30,"x":-1.74,"y":3.48},{"k":20,"v":30,"x":-2.33,"y":3.32},{"k":20,"v":30,"x":-1.74,"y":3.29},{"k":20,"v":30,"x":-2.26,"y":2.74},{"k":20,"v":30,"x":-2.92,"y":1.92},{"k":20,"v":30,"x":-2.88,"y":1.23},{"k":20,"v":30,"x":-2.5,"y":0.75},{"k":20,"v":30,"x":-1.46,"y":1.03},{"k":20,"v":30,"x":-1.25,"y":1.58},{"k":20,"v":30,"x":-1.25,"y":2.4},{"k":20,"v":30,"x":-1.49,"y":2.74},{"k":20,"v":30,"x":-1.25,"y":3.22},
{"k":21,"v":35,"x":-1.25,"y":3.51},{"k":21,"v":35,"x":-1.46,"y":3.48},{"k":21,"v":35,"x":-1.6,"y":3.29},{"k":21,"v":35,"x":-2.09,"y":2.67},{"k":21,"v":35,"x":-2.57,"y":2.26},{"k":21,"v":35,"x":-2.65,"y":1.23},{"k":21,"v":35,"x":-2.36,"y":1.1},{"k":21,"v":35,"x":-1.88,"y":1.37},{"k":21,"v":35,"x":-1.53,"y":2.29},{"k":21,"v":35,"x":-1.82,"y":2.4},{"k":21,"v":35,"x":-1.81,"y":2.81},{"k":21,"v":35,"x":-1.53,"y":3.22},
{"k":22,"v":40,"x":-1.99,"y":2.74},{"k":22,"v":40,"x":-2.5,"y":1.68},{"k":22,"v":40,"x":-2.47,"y":1.92},{"k":22,"v":40,"x":-2.12,"y":2.6},
{"k":23,"v":40,"x":-1.45,"y":3.37},{"k":23,"v":40,"x":-1.31,"y":3.48},{"k":23,"v":40,"x":-1.32,"y":3.41},
{"k":24,"v":20,"x":-0.1,"y":3.27},{"k":24,"v":20,"x":0.76,"y":3.63},{"k":24,"v":20,"x":2.29,"y":3.15},{"k":24,"v":20,"x":3.2,"y":2.81},{"k":24,"v":20,"x":3.42,"y":2.71},{"k":24,"v":20,"x":3.16,"y":2.67},{"k":24,"v":20,"x":3.44,"y":1.44},{"k":24,"v":20,"x":3.13,"y":0.75},{"k":24,"v":20,"x":2.64,"y":0.21},{"k":24,"v":20,"x":1.6,"y":0.24},{"k":24,"v":20,"x":0.9,"y":0.48},{"k":24,"v":20,"x":0.49,"y":1.03},{"k":24,"v":20,"x":0.35,"y":2.53},{"k":24,"v":20,"x":0.17,"y":2.95},
{"k":25,"v":25,"x":0.07,"y":3.25},{"k":25,"v":25,"x":0.9,"y":3.56},{"k":25,"v":25,"x":2.22,"y":3.29},{"k":25,"v":25,"x":2.57,"y":3.08},{"k":25,"v":25,"x":3.09,"y":2.06},{"k":25,"v":25,"x":2.99,"y":1.03},{"k":25,"v":25,"x":2.57,"y":0.55},{"k":25,"v":25,"x":1.25,"y":0.45},{"k":25,"v":25,"x":0.76,"y":0.96},{"k":25,"v":25,"x":0.56,"y":2.4},{"k":25,"v":25,"x":0.42,"y":2.95},
{"k":26,"v":30,"x":0.42,"y":3.08},{"k":26,"v":30,"x":0.63,"y":3.36},{"k":26,"v":30,"x":1.04,"y":3.43},{"k":26,"v":30,"x":2.12,"y":3.29},{"k":26,"v":30,"x":2.05,"y":3.08},{"k":26,"v":30,"x":2.61,"y":2.06},{"k":26,"v":30,"x":2.78,"y":1.44},{"k":26,"v":30,"x":2.78,"y":1.03},{"k":26,"v":30,"x":2.47,"y":0.82},{"k":26,"v":30,"x":1.6,"y":0.79},{"k":26,"v":30,"x":1.11,"y":1.16},{"k":26,"v":30,"x":0.9,"y":2.4},{"k":26,"v":30,"x":0.76,"y":2.91},
{"k":27,"v":35,"x":1.04,"y":3.39},{"k":27,"v":35,"x":1.67,"y":3.39},{"k":27,"v":35,"x":1.81,"y":3.22},{"k":27,"v":35,"x":2.29,"y":2.33},{"k":27,"v":35,"x":2.61,"y":1.37},{"k":27,"v":35,"x":2.36,"y":1.11},{"k":27,"v":35,"x":1.6,"y":1.3},{"k":27,"v":35,"x":1.36,"y":1.85},{"k":27,"v":35,"x":1.11,"y":2.64},{"k":27,"v":35,"x":1.6,"y":2.88},{"k":27,"v":35,"x":1.6,"y":3.08},
{"k":28,"v":40,"x":1.49,"y":2.29},{"k":28,"v":40,"x":2.02,"y":2.06},{"k":28,"v":40,"x":2.12,"y":1.54},{"k":28,"v":40,"x":1.88,"y":1.78},
{"k":29,"v":40,"x":1.11,"y":3.48},{"k":29,"v":40,"x":1.49,"y":3.48},{"k":29,"v":40,"x":1.81,"y":3.01},{"k":29,"v":40,"x":1.39,"y":3.39},
{"k":30,"v":20,"x":-2.64,"y":-0.07},{"k":30,"v":20,"x":-3.34,"y":-0.62},{"k":30,"v":20,"x":-3.51,"y":-1.37},{"k":30,"v":20,"x":-3.34,"y":-1.99},{"k":30,"v":20,"x":-2.95,"y":-3.01},{"k":30,"v":20,"x":-1.74,"y":-3.37},{"k":30,"v":20,"x":-1.18,"y":-3.56},{"k":30,"v":20,"x":-0.97,"y":-3.63},{"k":30,"v":20,"x":-0.9,"y":-2.84},{"k":30,"v":20,"x":-1.04,"y":-2.26},{"k":30,"v":20,"x":-0.9,"y":-0.75},{"k":30,"v":20,"x":-1.18,"y":-0.41},{"k":30,"v":20,"x":-1.88,"y":-0.27},
{"k":31,"v":25,"x":-2.61,"y":-0.34},{"k":31,"v":25,"x":-3.06,"y":-0.75},{"k":31,"v":25,"x":-3.14,"y":-1.37},{"k":31,"v":25,"x":-2.78,"y":-2.4},{"k":31,"v":25,"x":-2.99,"y":-3.01},{"k":31,"v":25,"x":-1.88,"y":-3.37},{"k":31,"v":25,"x":-1.18,"y":-3.49},{"k":31,"v":25,"x":-0.9,"y":-2.81},{"k":31,"v":25,"x":-1.11,"y":-2.67},{"k":31,"v":25,"x":-1.11,"y":-1.3},{"k":31,"v":25,"x":-1.25,"y":-0.69},{"k":31,"v":25,"x":-2.02,"y":-0.55},
{"k":32,"v":30,"x":-2.57,"y":-0.65},{"k":32,"v":30,"x":-2.75,"y":-0.75},{"k":32,"v":30,"x":-2.86,"y":-1.37},{"k":32,"v":30,"x":-2.57,"y":-2.12},{"k":32,"v":30,"x":-1.81,"y":-3.36},{"k":32,"v":30,"x":-1.74,"y":-2.95},{"k":32,"v":30,"x":-1.25,"y":-3.46},{"k":32,"v":30,"x":-1.11,"y":-2.64},{"k":32,"v":30,"x":-1.36,"y":-2.47},{"k":32,"v":30,"x":-1.49,"y":-1.58},{"k":32,"v":30,"x":-1.6,"y":-0.89},{"k":32,"v":30,"x":-2.15,"y":-0.75},
{"k":33,"v":35,"x":-2.65,"y":-1.06},{"k":33,"v":35,"x":-2.5,"y":-1.1},{"k":33,"v":35,"x":-2.4,"y":-0.97},{"k":33,"v":35,"x":-1.95,"y":-1.4},{"k":33,"v":35,"x":-1.6,"y":-2.23},{"k":33,"v":35,"x":-2,"y":-2.33},{"k":33,"v":35,"x":-1.82,"y":-2.95},{"k":33,"v":35,"x":-2.29,"y":-2.33},{"k":33,"v":35,"x":-2.65,"y":-1.58},
{"k":34,"v":35,"x":-1.74,"y":-3.01},{"k":34,"v":35,"x":-1.29,"y":-3.49},{"k":34,"v":35,"x":-1.46,"y":-3.43},
{"k":35,"v":20,"x":2.64,"y":0.05},{"k":35,"v":20,"x":3.27,"y":-0.75},{"k":35,"v":20,"x":3.27,"y":-1.58},{"k":35,"v":20,"x":3.06,"y":-2.33},{"k":35,"v":20,"x":3.06,"y":-2.98},{"k":35,"v":20,"x":2.43,"y":-3.32},{"k":35,"v":20,"x":0.9,"y":-3.7},{"k":35,"v":20,"x":-0.07,"y":-3.22},{"k":35,"v":20,"x":-0.07,"y":-3.01},{"k":35,"v":20,"x":0.21,"y":-2.74},{"k":35,"v":20,"x":0.42,"y":-0.89},{"k":35,"v":20,"x":0.9,"y":-0.21},{"k":35,"v":20,"x":1.95,"y":-0.21},
{"k":36,"v":25,"x":2.64,"y":-0.24},{"k":36,"v":25,"x":3.02,"y":-0.89},{"k":36,"v":25,"x":3.02,"y":-1.58},{"k":36,"v":25,"x":2.78,"y":-2.4},{"k":36,"v":25,"x":2.92,"y":-2.95},{"k":36,"v":25,"x":2.29,"y":-3.29},{"k":36,"v":25,"x":0.9,"y":-3.63},{"k":36,"v":25,"x":0,"y":-3.22},{"k":36,"v":25,"x":0.28,"y":-3.22},{"k":36,"v":25,"x":0.63,"y":-2.4},{"k":36,"v":25,"x":0.7,"y":-0.89},{"k":36,"v":25,"x":1.18,"y":-0.38},{"k":36,"v":25,"x":2.29,"y":-0.34},
{"k":37,"v":30,"x":2.5,"y":-0.55},{"k":37,"v":30,"x":2.78,"y":-1.23},{"k":37,"v":30,"x":2.75,"y":-1.58},{"k":37,"v":30,"x":2.5,"y":-2.26},{"k":37,"v":30,"x":2.22,"y":-3.22},{"k":37,"v":30,"x":1.6,"y":-3.32},{"k":37,"v":30,"x":1.04,"y":-3.56},{"k":37,"v":30,"x":0.42,"y":-3.32},{"k":37,"v":30,"x":0.7,"y":-3.25},{"k":37,"v":30,"x":0.56,"y":-3.08},{"k":37,"v":30,"x":0.76,"y":-2.26},{"k":37,"v":30,"x":0.9,"y":-1.1},{"k":37,"v":30,"x":1.32,"y":-0.55},{"k":37,"v":30,"x":2.29,"y":-0.58},
{"k":38,"v":35,"x":2.54,"y":-0.86},{"k":38,"v":35,"x":2.64,"y":-1.23},{"k":38,"v":35,"x":2.47,"y":-2.4},{"k":38,"v":35,"x":2.22,"y":-3.25},{"k":38,"v":35,"x":1.81,"y":-3.39},{"k":38,"v":35,"x":0.76,"y":-3.39},{"k":38,"v":35,"x":1.15,"y":-3.29},{"k":38,"v":35,"x":0.97,"y":-2.88},{"k":38,"v":35,"x":1.18,"y":-2.74},{"k":38,"v":35,"x":1.25,"y":-1.58},{"k":38,"v":35,"x":1.6,"y":-0.89},{"k":38,"v":35,"x":2.29,"y":-0.89},
{"k":39,"v":40,"x":2.33,"y":-1.16},{"k":39,"v":40,"x":2.57,"y":-1.34},{"k":39,"v":40,"x":2.5,"y":-1.99},{"k":39,"v":40,"x":2.05,"y":-2.81},{"k":39,"v":40,"x":1.74,"y":-3.36},{"k":39,"v":40,"x":1.15,"y":-3.43},{"k":39,"v":40,"x":1.49,"y":-3.29},{"k":39,"v":40,"x":1.63,"y":-2.81},{"k":39,"v":40,"x":1.18,"y":-2.6},{"k":39,"v":40,"x":1.53,"y":-1.58},{"k":39,"v":40,"x":1.74,"y":-1.3},
{"k":40,"v":45,"x":2.09,"y":-1.61},{"k":40,"v":45,"x":2.02,"y":-1.78},{"k":40,"v":45,"x":1.67,"y":-2.21},{"k":40,"v":45,"x":1.6,"y":-2.19},{"k":40,"v":45,"x":1.81,"y":-1.82},
{"k":41,"v":45,"x":1.04,"y":-3.44},{"k":41,"v":45,"x":1.53,"y":-3.25},{"k":41,"v":45,"x":1.56,"y":-3.43},{"k":41,"v":45,"x":1.25,"y":-3.53}],
"bd":[{"x":-3.13,"y":2.95},{"x":-2.95,"y":3.07},{"x":-2.09,"y":3.34},{"x":-1.95,"y":2.79},{"x":-1.77,"y":3.03},{"x":-1.95,"y":1.8},{"x":-2.05,"y":1.66},{"x":2.4,"y":1.99},{"x":2.33,"y":2.09},{"x":2.22,"y":2.32},{"x":2.15,"y":2.47},{"x":2.03,"y":2.67},{"x":1.91,"y":2.84},{"x":0.76,"y":2.9},{"x":1.04,"y":2.71},{"x":-4.45,"y":1.79},{"x":-4.73,"y":1.32},{"x":3.54,"y":2.7},{"x":4.52,"y":1.64},{"x":-2.5,"y":-1.68},{"x":-2.43,"y":-1.85},{"x":-2.38,"y":-1.95},{"x":-2.33,"y":-2.09},{"x":-2.26,"y":-2.26},{"x":-2.15,"y":-1.51},{"x":-2.05,"y":-1.64},{"x":-1.95,"y":-1.78},{"x":-3.13,"y":-2.93},{"x":-3.02,"y":-3},{"x":-1.77,"y":-3.01},{"x":4.73,"y":-2.4},{"x":4.93,"y":-1.99},{"x":4.87,"y":-2.09},{"x":1.81,"y":-4.38},{"x":0.7,"y":-4.38},{"x":2.33,"y":-2.09},{"x":2.05,"y":-2.64},{"x":-0.35,"y":-4.09}],
"c":[{"k":0,"v":2.8,"x":-7,"y":-7},{"k":0,"v":2.8,"x":7,"y":-7},{"k":0,"v":2.8,"x":7,"y":7},{"k":0,"v":2.8,"x":-7,"y":7},
{"k":1,"v":5,"x":-5.2,"y":5.2},{"k":1,"v":5,"x":-4.5,"y":5.2},{"k":1,"v":5,"x":-4.47,"y":5},{"k":1,"v":5,"x":-5,"y":4.2},{"k":1,"v":5,"x":-5.2,"y":4.05},
{"k":2,"v":5,"x":4.47,"y":5.2},{"k":2,"v":5,"x":5.2,"y":5.2},{"k":2,"v":5,"x":5.2,"y":4.1},{"k":2,"v":5,"x":5,"y":4.18},{"k":2,"v":5,"x":4.47,"y":5},
{"k":3,"v":5,"x":-5.3,"y":2.5},{"k":3,"v":5,"x":-5,"y":3},{"k":3,"v":5,"x":-3.31,"y":3.97},{"k":3,"v":5,"x":-1.85,"y":4.52},{"k":3,"v":5,"x":0,"y":4.73},{"k":3,"v":5,"x":1.8,"y":4.52},{"k":3,"v":5,"x":3.63,"y":3.7},{"k":3,"v":5,"x":5,"y":2.98},{"k":3,"v":5,"x":5.3,"y":2.8},{"k":3,"v":5,"x":5.3,"y":-5.3},{"k":3,"v":5,"x":2.97,"y":-5.3},{"k":3,"v":5,"x":2.97,"y":-4.99},{"k":3,"v":5,"x":3.15,"y":-4.88},{"k":3,"v":5,"x":1.8,"y":-4.66},{"k":3,"v":5,"x":-0.02,"y":-4.45},{"k":3,"v":5,"x":-1.85,"y":-4.49},{"k":3,"v":5,"x":-3.85,"y":-4.28},{"k":3,"v":5,"x":-3.93,"y":-3.43},{"k":3,"v":5,"x":-4.77,"y":-1.92},{"k":3,"v":5,"x":-5,"y":-0.89},{"k":3,"v":5,"x":-5.3,"y":-0.5},
{"k":4,"v":5,"x":-5.2,"y":-5.2},{"k":4,"v":5,"x":-5.2,"y":-5.1},{"k":4,"v":5,"x":-5,"y":-5},{"k":4,"v":5,"x":-4.15,"y":-4.57},{"k":4,"v":5,"x":-3.65,"y":-5},{"k":4,"v":5,"x":-3.6,"y":-5.2},
{"k":5,"v":2.8,"x":-0.82,"y":4.1},{"k":5,"v":2.8,"x":-1.04,"y":4.28},{"k":5,"v":2.8,"x":-1.48,"y":4.36},{"k":5,"v":2.8,"x":-2.36,"y":4.25},{"k":5,"v":2.8,"x":-3.38,"y":3.73},{"k":5,"v":2.8,"x":-4.4,"y":2.81},{"k":5,"v":2.8,"x":-4.88,"y":1.85},{"k":5,"v":2.8,"x":-4.91,"y":1.23},{"k":5,"v":2.8,"x":-4.8,"y":1.44},{"k":5,"v":2.8,"x":-4.4,"y":2.4},{"k":5,"v":2.8,"x":-3.31,"y":3.43},{"k":5,"v":2.8,"x":-2.21,"y":3.87},{"k":5,"v":2.8,"x":-1.12,"y":4.02},
{"k":6,"v":2.8,"x":0.82,"y":4.14},{"k":6,"v":2.8,"x":1.07,"y":4.33},{"k":6,"v":2.8,"x":1.8,"y":4.32},{"k":6,"v":2.8,"x":2.9,"y":3.94},{"k":6,"v":2.8,"x":3.99,"y":3.22},{"k":6,"v":2.8,"x":4.72,"y":2.19},{"k":6,"v":2.8,"x":5.2,"y":1.51},{"k":6,"v":2.8,"x":5.2,"y":1.03},{"k":6,"v":2.8,"x":4.65,"y":1.64},{"k":6,"v":2.8,"x":3.99,"y":2.67},{"k":6,"v":2.8,"x":2.9,"y":3.56},{"k":6,"v":2.8,"x":1.66,"y":3.94},{"k":6,"v":2.8,"x":0.85,"y":4.08},
{"k":7,"v":2.8,"x":-5.2,"y":0.7},{"k":7,"v":2.8,"x":-5,"y":0.7},{"k":7,"v":2.8,"x":-4.66,"y":-0.14},{"k":7,"v":2.8,"x":-4.91,"y":-0.82},{"k":7,"v":2.8,"x":-5.2,"y":-0.85},
{"k":8,"v":2.8,"x":4.87,"y":0.86},{"k":8,"v":2.8,"x":4.69,"y":0.55},{"k":8,"v":2.8,"x":5,"y":-0.41},{"k":8,"v":2.8,"x":5.2,"y":-0.5},{"k":8,"v":2.8,"x":5.2,"y":0.55},
{"k":9,"v":2.8,"x":-0.53,"y":-4.1},{"k":9,"v":2.8,"x":-0.75,"y":-4.32},{"k":9,"v":2.8,"x":-1.41,"y":-4.35},{"k":9,"v":2.8,"x":-2.43,"y":-4.21},{"k":9,"v":2.8,"x":-3.6,"y":-3.56},{"k":9,"v":2.8,"x":-4.62,"y":-2.6},{"k":9,"v":2.8,"x":-4.99,"y":-1.71},{"k":9,"v":2.8,"x":-4.55,"y":-2.12},{"k":9,"v":2.8,"x":-3.6,"y":-3.22},{"k":9,"v":2.8,"x":-2.58,"y":-3.77},{"k":9,"v":2.8,"x":-1.41,"y":-3.97},
{"k":10,"v":2.8,"x":0.53,"y":-4.12},{"k":10,"v":2.8,"x":2.17,"y":-3.94},{"k":10,"v":2.8,"x":3.04,"y":-3.63},{"k":10,"v":2.8,"x":4.21,"y":-2.6},{"k":10,"v":2.8,"x":4.87,"y":-1.92},{"k":10,"v":2.8,"x":4.21,"y":-3.15},{"k":10,"v":2.8,"x":3.12,"y":-3.9},{"k":10,"v":2.8,"x":1.95,"y":-4.32},{"k":10,"v":2.8,"x":0.93,"y":-4.28},
{"k":11,"v":2.8,"x":-0.39,"y":-4.03},{"k":11,"v":2.8,"x":-0.07,"y":-3.75},{"k":11,"v":2.8,"x":0.31,"y":-4.04},
{"k":12,"v":10,"x":-0.13,"y":-4.21},{"k":12,"v":10,"x":0.12,"y":-4.19},{"k":12,"v":10,"x":0.01,"y":-4.28},
{"k":13,"v":10,"x":-0.28,"y":4.32},{"k":13,"v":10,"x":0.27,"y":4.32},{"k":13,"v":10,"x":0.27,"y":4.12},{"k":13,"v":10,"x":-0.28,"y":4.12},
{"k":14,"v":10,"x":0,"y":3.65},{"k":14,"v":10,"x":-0.53,"y":4.01},{"k":14,"v":10,"x":-0.82,"y":3.84},{"k":14,"v":10,"x":-2.58,"y":3.45},{"k":14,"v":10,"x":-3.74,"y":2.74},{"k":14,"v":10,"x":-4.58,"y":1.54},{"k":14,"v":10,"x":-4.4,"y":0.62},{"k":14,"v":10,"x":-3.82,"y":-0.19},{"k":14,"v":10,"x":-4.37,"y":-1.03},{"k":14,"v":10,"x":-4.55,"y":-1.64},{"k":14,"v":10,"x":-4,"y":-2.33},{"k":14,"v":10,"x":-3.16,"y":-3.01},{"k":14,"v":10,"x":-1.85,"y":-3.56},{"k":14,"v":10,"x":-0.82,"y":-3.84},{"k":14,"v":10,"x":-0.64,"y":-3.91},{"k":14,"v":10,"x":0,"y":-3.39},{"k":14,"v":10,"x":0.56,"y":-3.91},{"k":14,"v":10,"x":0.93,"y":-3.97},{"k":14,"v":10,"x":2.53,"y":-3.63},{"k":14,"v":10,"x":3.56,"y":-2.88},{"k":14,"v":10,"x":4.28,"y":-1.99},{"k":14,"v":10,"x":4.69,"y":-1.3},{"k":14,"v":10,"x":4.58,"y":-0.21},{"k":14,"v":10,"x":3.92,"y":0.58},{"k":14,"v":10,"x":4.61,"y":1.51},{"k":14,"v":10,"x":4.21,"y":2.09},{"k":14,"v":10,"x":3.56,"y":2.71},{"k":14,"v":10,"x":2.39,"y":3.36},{"k":14,"v":10,"x":0.82,"y":3.84},{"k":14,"v":10,"x":0.53,"y":3.97},
{"k":15,"v":15,"x":0,"y":3.44},{"k":15,"v":15,"x":-0.93,"y":3.73},{"k":15,"v":15,"x":-2.36,"y":3.48},{"k":15,"v":15,"x":-3.6,"y":2.66},{"k":15,"v":15,"x":-4.26,"y":2.05},{"k":15,"v":15,"x":-4,"y":2.12},{"k":15,"v":15,"x":-3.74,"y":1.34},{"k":15,"v":15,"x":-4,"y":1.16},{"k":15,"v":15,"x":-3.53,"y":0.34},{"k":15,"v":15,"x":-2.98,"y":-0.19},{"k":15,"v":15,"x":-3.85,"y":-1.23},{"k":15,"v":15,"x":-4.51,"y":-1.63},{"k":15,"v":15,"x":-3.85,"y":-2.34},{"k":15,"v":15,"x":-3.01,"y":-3.05},{"k":15,"v":15,"x":-1.85,"y":-3.49},{"k":15,"v":15,"x":-0.82,"y":-3.73},{"k":15,"v":15,"x":-0.24,"y":-3.22},{"k":15,"v":15,"x":0,"y":-3.22},{"k":15,"v":15,"x":0.56,"y":-3.77},{"k":15,"v":15,"x":1.07,"y":-3.77},{"k":15,"v":15,"x":2.53,"y":-3.49},{"k":15,"v":15,"x":3.92,"y":-2.43},{"k":15,"v":15,"x":4.36,"y":-1.85},{"k":15,"v":15,"x":4.1,"y":-1.71},{"k":15,"v":15,"x":4.32,"y":-1.37},{"k":15,"v":15,"x":3.99,"y":-0.27},{"k":15,"v":15,"x":3.01,"y":0.55},{"k":15,"v":15,"x":3.92,"y":2.12},{"k":15,"v":15,"x":4.21,"y":2.05},{"k":15,"v":15,"x":3.56,"y":2.66},{"k":15,"v":15,"x":2.42,"y":3.29},{"k":15,"v":15,"x":0.96,"y":3.73},
{"k":16,"v":10,"x":-1.55,"y":0.6},{"k":16,"v":10,"x":-1.26,"y":0.86},{"k":16,"v":10,"x":-0.82,"y":0.62},{"k":16,"v":10,"x":-0.3,"y":0.89},{"k":16,"v":10,"x":-0.01,"y":1.23},{"k":16,"v":10,"x":0.5,"y":0.75},{"k":16,"v":10,"x":0.12,"y":0.34},{"k":16,"v":10,"x":0.07,"y":0.07},{"k":16,"v":10,"x":0.34,"y":-0.69},{"k":16,"v":10,"x":0.64,"y":-1.16},{"k":16,"v":10,"x":0.27,"y":-2.47},{"k":16,"v":10,"x":-0.06,"y":-3.19},{"k":16,"v":10,"x":-0.39,"y":-2.74},{"k":16,"v":10,"x":-0.68,"y":-1.92},{"k":16,"v":10,"x":-0.97,"y":-1.03},{"k":16,"v":10,"x":-1.41,"y":-0.55},{"k":16,"v":10,"x":-2.31,"y":-0.17},{"k":16,"v":10,"x":-1.55,"y":0.14},{"k":16,"v":10,"x":-1.48,"y":-0.1},{"k":16,"v":10,"x":-1.12,"y":-0.41},{"k":16,"v":10,"x":-0.82,"y":-0.41},{"k":16,"v":10,"x":-0.31,"y":-0.14},{"k":16,"v":10,"x":-0.24,"y":0.07},{"k":16,"v":10,"x":-0.61,"y":0.27},{"k":16,"v":10,"x":-1.04,"y":0.24},{"k":16,"v":10,"x":-1.45,"y":0.31},
{"k":17,"v":10,"x":-0.01,"y":2.72},{"k":17,"v":10,"x":-0.2,"y":1.85},{"k":17,"v":10,"x":-0.3,"y":0.89},{"k":17,"v":10,"x":-0.01,"y":1.16},{"k":17,"v":10,"x":0.49,"y":0.75},{"k":17,"v":10,"x":0.2,"y":1.71},{"k":17,"v":10,"x":0.11,"y":2.26},
{"k":18,"v":5,"x":-0.01,"y":1.19},{"k":18,"v":5,"x":0.09,"y":0.89},{"k":18,"v":5,"x":-0.13,"y":0.34},{"k":18,"v":5,"x":-0.28,"y":0.48},
{"k":19,"v":5,"x":-0.06,"y":-0.27},{"k":19,"v":5,"x":0.23,"y":-1.68},{"k":19,"v":5,"x":-0.11,"y":-2.98},{"k":19,"v":5,"x":-0.39,"y":-2.26},{"k":19,"v":5,"x":-0.79,"y":-0.72},
{"k":20,"v":10,"x":0.93,"y":0.62},{"k":20,"v":10,"x":1.26,"y":0.86},{"k":20,"v":10,"x":1.51,"y":0.62},{"k":20,"v":10,"x":2.13,"y":0.46},{"k":20,"v":10,"x":1.47,"y":0.19},{"k":20,"v":10,"x":1.07,"y":0.31},
{"k":21,"v":20,"x":-0.8,"y":0.07},{"k":21,"v":20,"x":-0.59,"y":0.07},{"k":21,"v":20,"x":-0.69,"y":-0.08},
{"k":22,"v":20,"x":0,"y":3.19},{"k":22,"v":20,"x":-0.97,"y":3.66},{"k":22,"v":20,"x":-2.29,"y":3.32},{"k":22,"v":20,"x":-3.58,"y":2.6},{"k":22,"v":20,"x":-3.27,"y":2.65},{"k":22,"v":20,"x":-3.34,"y":1.99},{"k":22,"v":20,"x":-3.05,"y":1.1},{"k":22,"v":20,"x":-3.51,"y":0.95},{"k":22,"v":20,"x":-2.65,"y":-0.1},{"k":22,"v":20,"x":-1.81,"y":0.38},{"k":22,"v":20,"x":-2.1,"y":0.82},{"k":22,"v":20,"x":-1.26,"y":0.89},{"k":22,"v":20,"x":-1.23,"y":1.78},{"k":22,"v":20,"x":-0.9,"y":1.23},{"k":22,"v":20,"x":-0.61,"y":1.23},{"k":22,"v":20,"x":-0.23,"y":2.05},{"k":22,"v":20,"x":-0.01,"y":3.08},{"k":22,"v":20,"x":0.23,"y":2.05},{"k":22,"v":20,"x":0.64,"y":1.23},{"k":22,"v":20,"x":0.96,"y":1.23},{"k":22,"v":20,"x":1.26,"y":1.78},{"k":22,"v":20,"x":1.51,"y":1.16},{"k":22,"v":20,"x":2.53,"y":0.63},{"k":22,"v":20,"x":3.01,"y":0.55},{"k":22,"v":20,"x":3.52,"y":1.3},{"k":22,"v":20,"x":3.3,"y":2.64},{"k":22,"v":20,"x":3.56,"y":2.66},{"k":22,"v":20,"x":2.42,"y":3.29},{"k":22,"v":20,"x":0.96,"y":3.66},
{"k":23,"v":25,"x":0,"y":3.29},{"k":23,"v":25,"x":-0.97,"y":3.53},{"k":23,"v":25,"x":-1.15,"y":3.58},{"k":23,"v":25,"x":-2.29,"y":3.29},{"k":23,"v":25,"x":-1.7,"y":3.22},{"k":23,"v":25,"x":-2.72,"y":2.47},{"k":23,"v":25,"x":-2.94,"y":1.71},{"k":23,"v":25,"x":-2.69,"y":0.99},{"k":23,"v":25,"x":-2.39,"y":0.95},{"k":23,"v":25,"x":-1.3,"y":1.71},{"k":23,"v":25,"x":-1.3,"y":2.4},{"k":23,"v":25,"x":-0.97,"y":2.57},{"k":23,"v":25,"x":0,"y":3.19},{"k":23,"v":25,"x":0.93,"y":2.57},{"k":23,"v":25,"x":1.29,"y":2.36},{"k":23,"v":25,"x":1.26,"y":1.75},{"k":23,"v":25,"x":2.46,"y":0.63},{"k":23,"v":25,"x":2.9,"y":1.78},{"k":23,"v":25,"x":2.61,"y":2.53},{"k":23,"v":25,"x":2.17,"y":3.25},{"k":23,"v":25,"x":1.15,"y":3.53},
{"k":24,"v":20,"x":-1.37,"y":3.22},{"k":24,"v":20,"x":-1.19,"y":3.3},{"k":24,"v":20,"x":-0.9,"y":3.22},{"k":24,"v":20,"x":-1.23,"y":2.67},{"k":24,"v":20,"x":-1.39,"y":2.95},
{"k":25,"v":20,"x":0.91,"y":3.25},{"k":25,"v":20,"x":1.26,"y":3.3},{"k":25,"v":20,"x":1.4,"y":2.95},{"k":25,"v":20,"x":1.26,"y":2.66},
{"k":26,"v":30,"x":-1.34,"y":3.48},{"k":26,"v":30,"x":-2.28,"y":3.3},{"k":26,"v":30,"x":-1.7,"y":3.25},{"k":26,"v":30,"x":-2.65,"y":2.19},{"k":26,"v":30,"x":-2.61,"y":1.37},{"k":26,"v":30,"x":-2.36,"y":1.27},{"k":26,"v":30,"x":-1.85,"y":1.71},{"k":26,"v":30,"x":-1.47,"y":2.36},{"k":26,"v":30,"x":-1.7,"y":2.4},{"k":26,"v":30,"x":-1.7,"y":2.88},{"k":26,"v":30,"x":-1.34,"y":3.36},
{"k":27,"v":30,"x":1.29,"y":3.51},{"k":27,"v":30,"x":2.28,"y":3.25},{"k":27,"v":30,"x":1.69,"y":3.15},{"k":27,"v":30,"x":2.61,"y":2.05},{"k":27,"v":30,"x":2.61,"y":1.37},{"k":27,"v":30,"x":2.24,"y":1.3},{"k":27,"v":30,"x":1.47,"y":2.33},{"k":27,"v":30,"x":1.73,"y":2.47},{"k":27,"v":30,"x":1.62,"y":2.91},
{"k":28,"v":35,"x":-1.7,"y":3.08},{"k":28,"v":35,"x":-2.36,"y":2.19},{"k":28,"v":35,"x":-2.43,"y":1.95},{"k":28,"v":35,"x":-1.92,"y":2.81},
{"k":29,"v":35,"x":-1.55,"y":3.32},{"k":29,"v":35,"x":-1.34,"y":3.48},{"k":29,"v":35,"x":-1.41,"y":3.39},
{"k":30,"v":35,"x":1.69,"y":3.12},{"k":30,"v":35,"x":2.35,"y":2.19},{"k":30,"v":35,"x":2.4,"y":1.93},{"k":30,"v":35,"x":2.1,"y":2.6},
{"k":31,"v":35,"x":1.26,"y":3.51},{"k":31,"v":35,"x":1.51,"y":3.25},{"k":31,"v":35,"x":1.4,"y":3.46},
{"k":32,"v":30,"x":-0.93,"y":2.81},{"k":32,"v":30,"x":-0.46,"y":3.07},{"k":32,"v":30,"x":-0.82,"y":2.88},
{"k":33,"v":30,"x":0.42,"y":3.07},{"k":33,"v":30,"x":0.93,"y":2.79},{"k":33,"v":30,"x":0.6,"y":2.95},
{"k":34,"v":25,"x":-3.03,"y":0.75},{"k":34,"v":25,"x":-2.69,"y":0.92},{"k":34,"v":25,"x":-2.43,"y":0.89},{"k":34,"v":25,"x":-2.25,"y":0.45},{"k":34,"v":25,"x":-2.65,"y":0.17},
{"k":35,"v":30,"x":-2.72,"y":0.62},{"k":35,"v":30,"x":-2.54,"y":0.58},{"k":35,"v":30,"x":-2.54,"y":0.48},{"k":35,"v":30,"x":-2.69,"y":0.49},
{"k":36,"v":20,"x":-2.65,"y":-0.31},{"k":36,"v":20,"x":-3.34,"y":-1.23},{"k":36,"v":20,"x":-3.38,"y":-1.92},{"k":36,"v":20,"x":-3.09,"y":-2.6},{"k":36,"v":20,"x":-2.98,"y":-3.01},{"k":36,"v":20,"x":-1.85,"y":-3.37},{"k":36,"v":20,"x":-0.68,"y":-3.39},{"k":36,"v":20,"x":-1.01,"y":-3.29},{"k":36,"v":20,"x":-1.04,"y":-2.91},{"k":36,"v":20,"x":-0.86,"y":-2.88},{"k":36,"v":20,"x":-1.12,"y":-2.12},{"k":36,"v":20,"x":-1.19,"y":-1.51},{"k":36,"v":20,"x":-1.7,"y":-0.89},{"k":36,"v":20,"x":-1.99,"y":-0.69},
{"k":37,"v":25,"x":-2.61,"y":-0.63},{"k":37,"v":25,"x":-3.01,"y":-1.16},{"k":37,"v":25,"x":-2.87,"y":-2.33},{"k":37,"v":25,"x":-2.94,"y":-3.01},{"k":37,"v":25,"x":-1.85,"y":-3.34},{"k":37,"v":25,"x":-1.12,"y":-3.43},{"k":37,"v":25,"x":-1.04,"y":-3.43},{"k":37,"v":25,"x":-1.41,"y":-2.67},{"k":37,"v":25,"x":-1.19,"y":-2.53},{"k":37,"v":25,"x":-1.34,"y":-1.85},{"k":37,"v":25,"x":-1.85,"y":-1.1},{"k":37,"v":25,"x":-2.43,"y":-0.69},
{"k":38,"v":30,"x":-2.65,"y":-0.99},{"k":38,"v":30,"x":-2.39,"y":-0.96},{"k":38,"v":30,"x":-1.85,"y":-1.34},{"k":38,"v":30,"x":-1.19,"y":-2.53},{"k":38,"v":30,"x":-1.41,"y":-2.6},{"k":38,"v":30,"x":-1.41,"y":-3.05},{"k":38,"v":30,"x":-1.12,"y":-3.43},{"k":38,"v":30,"x":-1.77,"y":-3.36},{"k":38,"v":30,"x":-2.5,"y":-3.22},{"k":38,"v":30,"x":-2.28,"y":-2.84},{"k":38,"v":30,"x":-2.58,"y":-2.26},{"k":38,"v":30,"x":-2.72,"y":-1.3},
{"k":39,"v":35,"x":-2.39,"y":-1.95},{"k":39,"v":35,"x":-2.07,"y":-2.26},{"k":39,"v":35,"x":-1.63,"y":-3.22},{"k":39,"v":35,"x":-1.26,"y":-3.46},{"k":39,"v":35,"x":-1.59,"y":-3.39},{"k":39,"v":35,"x":-1.81,"y":-3.39},{"k":39,"v":35,"x":-1.77,"y":-3.22},{"k":39,"v":35,"x":-2.21,"y":-2.6},
{"k":40,"v":35,"x":-2.56,"y":-1.47},{"k":40,"v":35,"x":-2.39,"y":-1.71},{"k":40,"v":35,"x":-2.47,"y":-1.88},{"k":40,"v":35,"x":-2.56,"y":-1.71},
{"k":41,"v":35,"x":-1.92,"y":-1.88},{"k":41,"v":35,"x":-1.63,"y":-2.16},{"k":41,"v":35,"x":-1.7,"y":-2.19},
{"k":42,"v":40,"x":-1.59,"y":-3.25},{"k":42,"v":40,"x":-1.34,"y":-3.39},{"k":42,"v":40,"x":-1.26,"y":-3.49},{"k":42,"v":40,"x":-1.55,"y":-3.39},
{"k":43,"v":45,"x":-1.42,"y":-3.39},{"k":43,"v":45,"x":-1.3,"y":-3.43},{"k":43,"v":45,"x":-1.37,"y":-3.48},
{"k":44,"v":20,"x":2.42,"y":-0.99},{"k":44,"v":20,"x":1.29,"y":-1.06},{"k":44,"v":20,"x":0.64,"y":-1.58},{"k":44,"v":20,"x":0.49,"y":-2.74},{"k":44,"v":20,"x":0.01,"y":-3.25},{"k":44,"v":20,"x":1.07,"y":-3.73},{"k":44,"v":20,"x":2.17,"y":-3.6},{"k":44,"v":20,"x":3.26,"y":-3.05},{"k":44,"v":20,"x":3.92,"y":-2.36},{"k":44,"v":20,"x":3.45,"y":-2.57},{"k":44,"v":20,"x":3.19,"y":-1.99},{"k":44,"v":20,"x":3.19,"y":-1.3},
{"k":45,"v":25,"x":2.31,"y":-1.08},{"k":45,"v":25,"x":1.44,"y":-1.13},{"k":45,"v":25,"x":0.85,"y":-1.58},{"k":45,"v":25,"x":0.6,"y":-2.74},{"k":45,"v":25,"x":0.34,"y":-3.22},{"k":45,"v":25,"x":1.07,"y":-3.66},{"k":45,"v":25,"x":2.17,"y":-3.53},{"k":45,"v":25,"x":3.26,"y":-2.98},{"k":45,"v":25,"x":3.85,"y":-2.47},{"k":45,"v":25,"x":3.37,"y":-2.53},{"k":45,"v":25,"x":2.75,"y":-1.51},
{"k":46,"v":30,"x":2.24,"y":-1.36},{"k":46,"v":30,"x":1.44,"y":-1.47},{"k":46,"v":30,"x":1,"y":-2.26},{"k":46,"v":30,"x":0.56,"y":-2.88},{"k":46,"v":30,"x":0.67,"y":-3.39},{"k":46,"v":30,"x":1.07,"y":-3.6},{"k":46,"v":30,"x":2.24,"y":-3.43},{"k":46,"v":30,"x":3.26,"y":-2.91},{"k":46,"v":30,"x":3.45,"y":-2.71},{"k":46,"v":30,"x":2.79,"y":-2.91},{"k":46,"v":30,"x":2.75,"y":-1.92},{"k":46,"v":30,"x":2.53,"y":-1.51},
{"k":47,"v":35,"x":2.01,"y":-1.71},{"k":47,"v":35,"x":1.22,"y":-2.53},{"k":47,"v":35,"x":0.96,"y":-2.84},{"k":47,"v":35,"x":1.04,"y":-3.01},{"k":47,"v":35,"x":0.96,"y":-3.43},{"k":47,"v":35,"x":1.44,"y":-3.53},{"k":47,"v":35,"x":2.61,"y":-3.22},{"k":47,"v":35,"x":2.1,"y":-3.29},{"k":47,"v":35,"x":2.42,"y":-2.26},{"k":47,"v":35,"x":2.42,"y":-1.92},{"k":47,"v":35,"x":2.1,"y":-1.85},
{"k":48,"v":40,"x":2.1,"y":-2.53},{"k":48,"v":40,"x":1.73,"y":-2.95},{"k":48,"v":40,"x":1.55,"y":-3.29},{"k":48,"v":40,"x":1.11,"y":-3.46},{"k":48,"v":40,"x":1.51,"y":-3.53},{"k":48,"v":40,"x":1.95,"y":-3.37},{"k":48,"v":40,"x":1.69,"y":-3.32},
{"k":49,"v":45,"x":1.11,"y":-3.44},{"k":49,"v":45,"x":1.51,"y":-3.29},{"k":49,"v":45,"x":1.55,"y":-3.43},{"k":49,"v":45,"x":1.33,"y":-3.51},
{"k":50,"v":20,"x":0.38,"y":0.1},{"k":50,"v":20,"x":0.56,"y":0.25},{"k":50,"v":20,"x":0.74,"y":0.17},{"k":50,"v":20,"x":0.85,"y":0.03},{"k":50,"v":20,"x":1.4,"y":-0.03},{"k":50,"v":20,"x":2.63,"y":0.4},{"k":50,"v":20,"x":3.7,"y":-0.55},{"k":50,"v":20,"x":3.99,"y":-1.3},{"k":50,"v":20,"x":3.98,"y":-1.47},{"k":50,"v":20,"x":3.19,"y":-1.29},{"k":50,"v":20,"x":1.93,"y":-0.81},{"k":50,"v":20,"x":1.4,"y":-0.24},{"k":50,"v":20,"x":0.93,"y":-0.17},{"k":50,"v":20,"x":0.45,"y":-0.03},
{"k":51,"v":25,"x":1.4,"y":-0.21},{"k":51,"v":25,"x":2.63,"y":0.17},{"k":51,"v":25,"x":3.26,"y":-0.41},{"k":51,"v":25,"x":3.7,"y":-1.3},{"k":51,"v":25,"x":2.9,"y":-1.1},{"k":51,"v":25,"x":2.17,"y":-0.75},
{"k":52,"v":30,"x":1.69,"y":-0.34},{"k":52,"v":30,"x":2.63,"y":-0.03},{"k":52,"v":30,"x":3.15,"y":-0.69},{"k":52,"v":30,"x":3.41,"y":-1.13},{"k":52,"v":30,"x":2.39,"y":-0.86},
{"k":53,"v":35,"x":2.02,"y":-0.48},{"k":53,"v":35,"x":2.59,"y":-0.21},{"k":53,"v":35,"x":2.97,"y":-0.69},{"k":53,"v":35,"x":3.12,"y":-0.96},{"k":53,"v":35,"x":2.46,"y":-0.79},
{"k":54,"v":40,"x":2.33,"y":-0.58},{"k":54,"v":40,"x":2.51,"y":-0.43},{"k":54,"v":40,"x":2.66,"y":-0.45},{"k":54,"v":40,"x":2.9,"y":-0.86},{"k":54,"v":40,"x":2.68,"y":-0.79},
{"k":55,"v":45,"x":2.62,"y":-0.69},{"k":55,"v":45,"x":2.69,"y":-0.67},{"k":55,"v":45,"x":2.69,"y":-0.73}],
"cd":[{"x":-2.83,"y":3.1},{"x":-2.61,"y":3.2},{"x":-2.45,"y":3.24},{"x":2.42,"y":3.24},{"x":2.57,"y":3.2},{"x":2.86,"y":3.1},{"x":-2.43,"y":1.86},{"x":2.45,"y":1.86},{"x":-2.21,"y":-1.4},{"x":-1.96,"y":-1.8},{"x":-1.92,"y":-2.81},{"x":-1.77,"y":-3.01},{"x":-2.72,"y":-3.14},{"x":2.72,"y":-3.14},{"x":2.93,"y":-3.05},{"x":3.56,"y":-2.71},{"x":2.86,"y":-4.04},{"x":2.72,"y":-4.14},{"x":2.57,"y":-4.19},{"x":4.69,"y":-1.64},{"x":4.61,"y":-1.92},{"x":4.47,"y":-2.19},{"x":-0.01,"y":3.95},{"x":-1.04,"y":2.71},{"x":1.04,"y":2.71},{"x":2.46,"y":-3.29}]},
"hconcat":[
{"spacing":144,"hconcat":[
{"width":825,"height":745,"title":{"text":"(a)","dx":60},"resolve":{"axis":{"x":"independent","y":"independent"}},"layer":[
{"data":{"name":"a"},"transform":[{"window":[{"op":"row_number","as":"i"}]}],"mark":{"type":"line","clip":true,"interpolate":"catmull-rom-closed","stroke":"black","strokeWidth":1.5},"encoding":{"x":{"field":"x","type":"quantitative","scale":{"domain":[-5,5],"nice":false},"axis":{"values":[-5,0,5],"title":"x [m]","labelPadding":33,"titlePadding":12,"labelExpr":"replace(datum.label,'−','-')"}},"y":{"field":"y","type":"quantitative","scale":{"domain":[-5,5],"nice":false},"axis":{"values":[-5,-4,-3,-2,-1,0,1,2,3,4,5],"title":"y [m]","labelPadding":23,"titlePadding":8,"labelExpr":"replace(datum.label,'−','-')"}},"detail":{"field":"k"},"order":{"field":"i","type":"quantitative"},"fill":{"field":"v","type":"quantitative","scale":{"domain":[5.3,21.7,38.1,54.4,70.8,87.2,103.6,120],"range":["#3E26A8","#4852F4","#2D87F7","#12B1D6","#37C897","#ABC739","#FEC338","#F9FB15"]},"legend":{"title":"User Data Rate [Mbps]","values":[10,20,30,40,50,60,70,80,90,100,110,120],"offset":39,"titlePadding":23}}}},
{"data":{"name":"ac"},"transform":[{"window":[{"op":"row_number","as":"i"}]}],"mark":{"type":"line","clip":true,"stroke":"black","strokeWidth":4},"encoding":{"x":{"field":"x","type":"quantitative","axis":null},"y":{"field":"y","type":"quantitative","axis":null},"detail":{"field":"k"},"order":{"field":"i","type":"quantitative"}}},
{"data":{"name":"ad"},"mark":{"type":"circle","color":"black","opacity":1,"size":14,"clip":true},"encoding":{"x":{"field":"x","type":"quantitative","axis":{"orient":"top","values":[-5,0,5],"labels":false,"domain":false,"title":null}},"y":{"field":"y","type":"quantitative","axis":{"orient":"right","values":[-5,-4,-3,-2,-1,0,1,2,3,4,5],"labels":false,"domain":false,"title":null}}}}
]},
{"width":825,"height":745,"title":{"text":"(b)"},"resolve":{"axis":{"x":"independent","y":"independent"}},"layer":[
{"data":{"name":"b"},"transform":[{"window":[{"op":"row_number","as":"i"}]}],"mark":{"type":"line","clip":true,"interpolate":"catmull-rom-closed","stroke":"black","strokeWidth":1.5},"encoding":{"x":{"field":"x","type":"quantitative","scale":{"domain":[-5,5],"nice":false},"axis":{"values":[-5,0,5],"title":"x [m]","labelPadding":33,"titlePadding":12,"labelExpr":"replace(datum.label,'−','-')"}},"y":{"field":"y","type":"quantitative","scale":{"domain":[-5,5],"nice":false},"axis":{"values":[-5,-4,-3,-2,-1,0,1,2,3,4,5],"title":"y [m]","labelPadding":23,"titlePadding":8,"labelExpr":"replace(datum.label,'−','-')"}},"detail":{"field":"k"},"order":{"field":"i","type":"quantitative"},"fill":{"field":"v","type":"quantitative","scale":{"domain":[2.8,9.5,16.3,23,29.8,36.5,43.3,50],"range":["#3E26A8","#4852F4","#2D87F7","#12B1D6","#37C897","#ABC739","#FEC338","#F9FB15"]},"legend":{"title":"User Data Rate [Mbps]","values":[5,10,15,20,25,30,35,40,45,50],"offset":38,"titlePadding":19}}}},
{"data":{"name":"bd"},"mark":{"type":"circle","color":"black","opacity":1,"size":14,"clip":true},"encoding":{"x":{"field":"x","type":"quantitative","axis":{"orient":"top","values":[-5,0,5],"labels":false,"domain":false,"title":null}},"y":{"field":"y","type":"quantitative","axis":{"orient":"right","values":[-5,-4,-3,-2,-1,0,1,2,3,4,5],"labels":false,"domain":false,"title":null}}}}
]}
],"resolve":{"scale":{"fill":"independent"}}},
{"width":786,"height":745,"title":{"text":"(c)"},"resolve":{"axis":{"x":"independent","y":"independent"}},"layer":[
{"data":{"name":"c"},"transform":[{"window":[{"op":"row_number","as":"i"}]}],"mark":{"type":"line","clip":true,"interpolate":"catmull-rom-closed","stroke":"black","strokeWidth":1.5},"encoding":{"x":{"field":"x","type":"quantitative","scale":{"domain":[-5,5],"nice":false},"axis":{"values":[-5,0,5],"title":"x [m]","labelPadding":33,"titlePadding":12,"labelExpr":"replace(datum.label,'−','-')"}},"y":{"field":"y","type":"quantitative","scale":{"domain":[-5,5],"nice":false},"axis":{"values":[-5,-4,-3,-2,-1,0,1,2,3,4,5],"title":"y [m]","labelPadding":23,"titlePadding":8,"labelExpr":"replace(datum.label,'−','-')"}},"detail":{"field":"k"},"order":{"field":"i","type":"quantitative"},"fill":{"field":"v","type":"quantitative","scale":{"domain":[2.8,10.3,17.7,25.2,32.6,40.1,47.5,55],"range":["#3E26A8","#4852F4","#2D87F7","#12B1D6","#37C897","#ABC739","#FEC338","#F9FB15"]},"legend":{"title":"User Data Rate [Mbps]","values":[5,10,15,20,25,30,35,40,45,50,55],"offset":81,"titlePadding":25}}}},
{"data":{"name":"cd"},"mark":{"type":"circle","color":"black","opacity":1,"size":14,"clip":true},"encoding":{"x":{"field":"x","type":"quantitative","axis":{"orient":"top","values":[-5,0,5],"labels":false,"domain":false,"title":null}},"y":{"field":"y","type":"quantitative","axis":{"orient":"right","values":[-5,-4,-3,-2,-1,0,1,2,3,4,5],"labels":false,"domain":false,"title":null}}}}
]}
],"resolve":{"scale":{"fill":"independent"}}}
